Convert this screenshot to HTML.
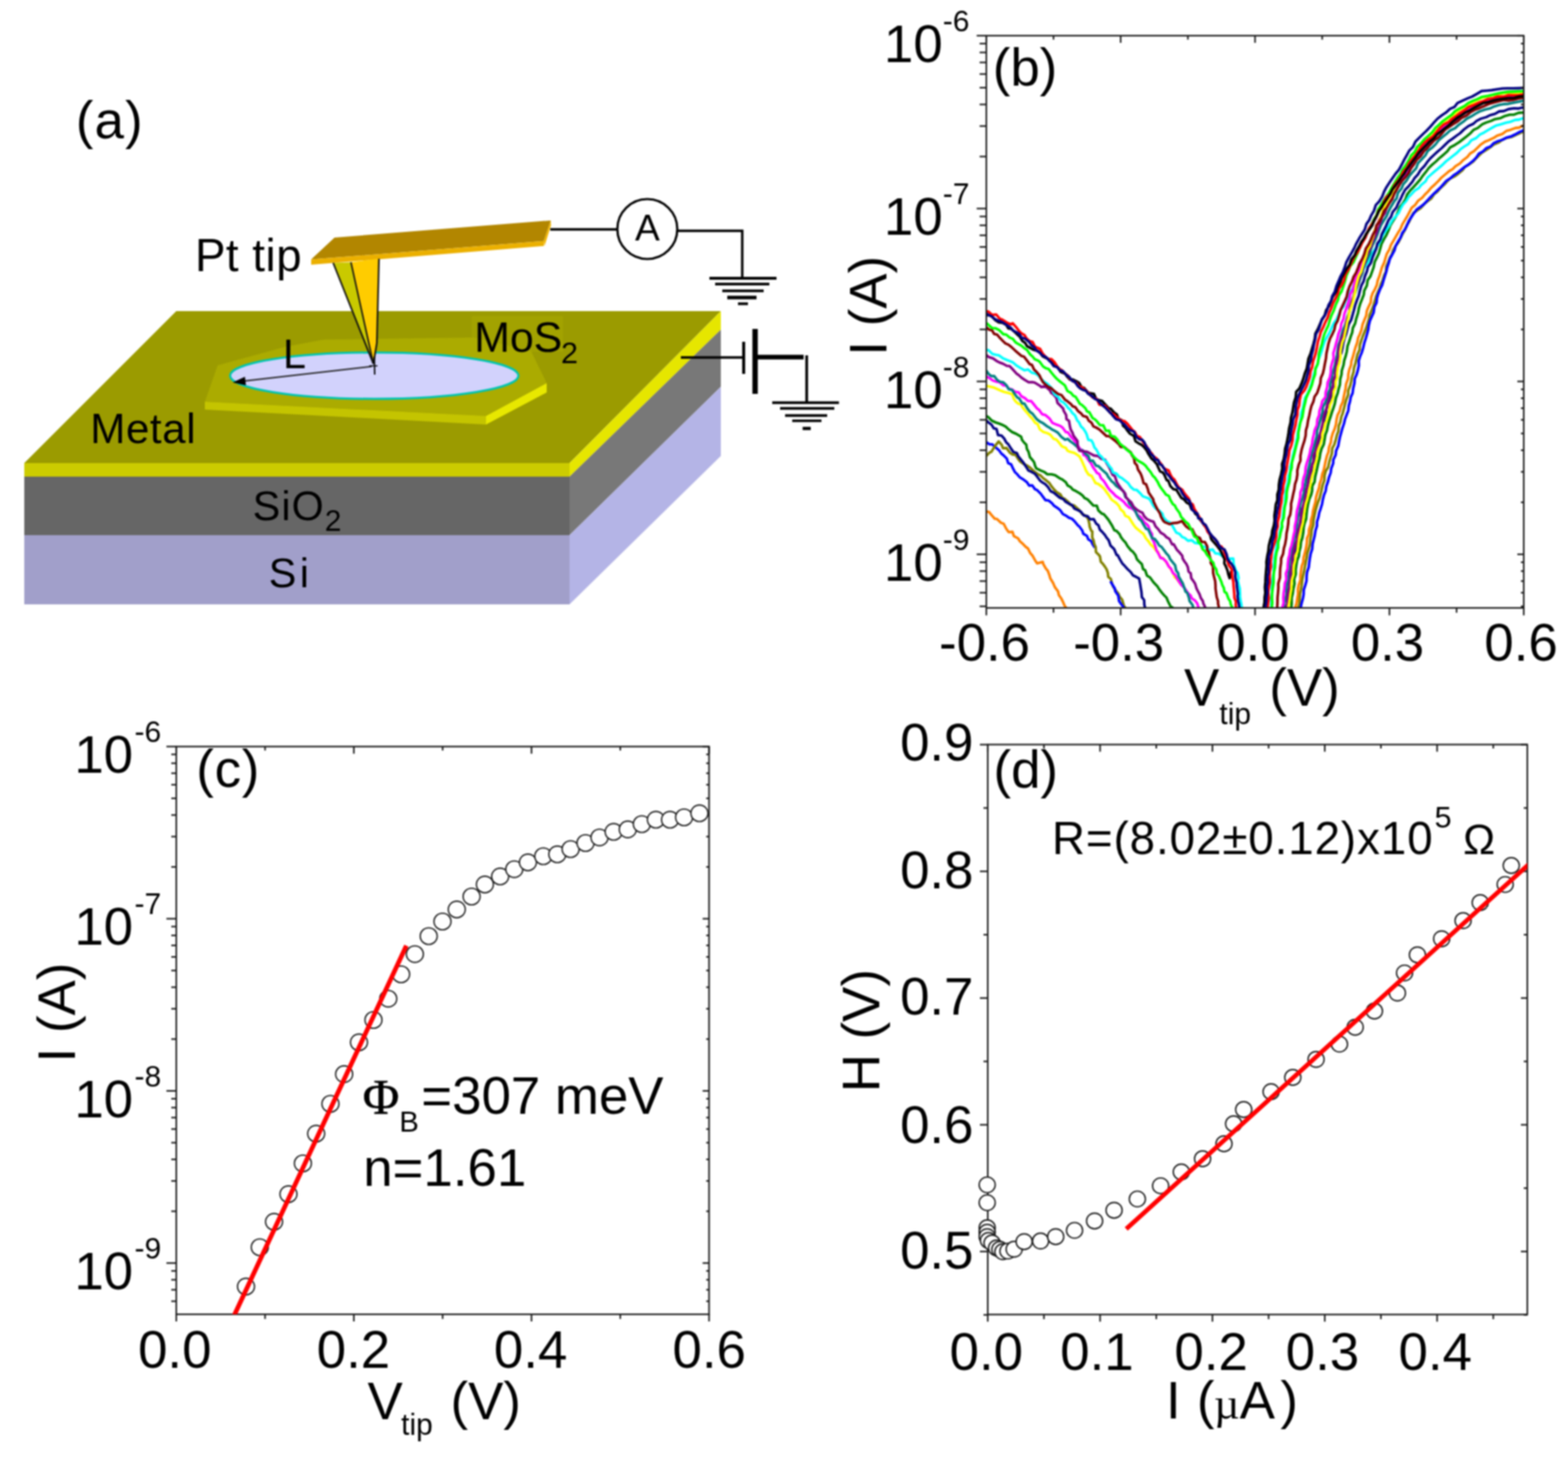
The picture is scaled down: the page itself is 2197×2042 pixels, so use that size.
<!DOCTYPE html>
<html><head><meta charset="utf-8"><title>Figure</title>
<style>
html,body{margin:0;padding:0;background:#fff;}
body{width:2197px;height:2042px;overflow:hidden;}
svg{display:block;filter:blur(0.8px);}
text{fill:#000;}
</style></head>
<body>
<svg width="2197" height="2042" viewBox="0 0 2197 2042">
<rect x="0" y="0" width="2197" height="2042" fill="#fff"/>
<text x="106.3" y="194.2" font-size="74" text-anchor="start" font-family="'Liberation Sans', Arial, sans-serif" textLength="93.7" lengthAdjust="spacing">(a)</text>
<polygon points="247.0,436.0 1010.0,436.0 798.0,649.0 34.0,649.0" fill="#9b9b00"/>
<polygon points="34.0,649.0 798.0,649.0 798.0,668.0 34.0,668.0" fill="#cccc00"/>
<polygon points="34.0,668.0 798.0,668.0 798.0,750.0 34.0,750.0" fill="#666666"/>
<polygon points="34.0,750.0 798.0,750.0 798.0,847.0 34.0,847.0" fill="#a19fca"/>
<polygon points="798.0,649.0 1010.0,436.0 1010.0,462.0 798.0,668.0" fill="#e6e600"/>
<polygon points="798.0,668.0 1010.0,462.0 1010.0,542.0 798.0,750.0" fill="#787878"/>
<polygon points="798.0,750.0 1010.0,542.0 1010.0,639.0 798.0,847.0" fill="#b4b4e6"/>
<polygon points="661.0,443.0 789.0,443.0 789.0,493.0 661.0,493.0" fill="#a2a200"/>
<polygon points="305.0,512.0 400.0,486.0 453.0,476.0 664.0,473.0 744.0,492.0 766.0,537.0 681.0,583.0 287.0,563.0" fill="#abab00"/>
<polygon points="287.0,563.0 681.0,583.0 681.0,595.0 287.0,574.0" fill="#c4c400"/>
<polygon points="681.0,583.0 766.0,537.0 766.0,550.0 681.0,595.0" fill="#e8e800"/>
<ellipse cx="524.4" cy="526.5" rx="202" ry="32.5" fill="#d2d2fc" stroke="#00c4b0" stroke-width="3"/>
<line x1="521.0" y1="513.6" x2="340.0" y2="534.2" stroke="#222" stroke-width="2.0"/>
<polygon points="326.0,536.0 344.6,540.0 343.2,528.0" fill="#000"/>
<text x="396.6" y="515.5" font-size="58" text-anchor="start" font-family="'Liberation Sans', Arial, sans-serif">L</text>
<polygon points="436.0,363.6 468.7,333.0 771.7,309.0 762.0,337.8" fill="#b28600"/>
<polygon points="436.0,363.6 762.0,337.8 762.0,344.8 436.0,371.0" fill="#ebb000"/>
<polygon points="771.7,309.0 772.0,316.0 763.0,344.8 762.0,337.8" fill="#f0b400"/>
<polygon points="466.8,368.4 491.7,367.4 523.2,510.0" fill="#c9c900"/>
<polygon points="491.7,367.4 531.0,362.6 528.0,481.0 523.2,510.0" fill="#ffcc00"/>
<line x1="466.8" y1="368.4" x2="523.2" y2="510.0" stroke="#111" stroke-width="2.3"/>
<line x1="491.7" y1="367.4" x2="523.2" y2="510.0" stroke="#111" stroke-width="2.1"/>
<polyline points="531,362.6 528,481 523.2,510" fill="none" stroke="#111" stroke-width="2.3"/>
<line x1="524.5" y1="500.0" x2="525.0" y2="525.0" stroke="#000" stroke-width="2"/>
<line x1="517.5" y1="512.7" x2="529.0" y2="512.7" stroke="#000" stroke-width="1.5"/>
<text x="273.2" y="379.6" font-size="64" text-anchor="start" font-family="'Liberation Sans', Arial, sans-serif" textLength="149.3" lengthAdjust="spacing">Pt tip</text>
<text x="664.5" y="493.4" font-size="60" text-anchor="start" font-family="'Liberation Sans', Arial, sans-serif">MoS</text>
<text x="786.0" y="509.3" font-size="43" text-anchor="start" font-family="'Liberation Sans', Arial, sans-serif">2</text>
<text x="126.5" y="620.5" font-size="59" text-anchor="start" font-family="'Liberation Sans', Arial, sans-serif" textLength="147.5" lengthAdjust="spacing">Metal</text>
<text x="354.0" y="729.2" font-size="58" text-anchor="start" font-family="'Liberation Sans', Arial, sans-serif" textLength="99.7" lengthAdjust="spacing">SiO</text>
<text x="455.0" y="743.9" font-size="42" text-anchor="start" font-family="'Liberation Sans', Arial, sans-serif">2</text>
<text x="376.5" y="823.3" font-size="58" text-anchor="start" font-family="'Liberation Sans', Arial, sans-serif" textLength="56.4" lengthAdjust="spacing">Si</text>
<line x1="771.0" y1="321.5" x2="864.0" y2="321.5" stroke="#000" stroke-width="3.4"/>
<circle cx="907" cy="321" r="42" fill="#fff" stroke="#000" stroke-width="3.2"/>
<text x="907.0" y="337.0" font-size="52" text-anchor="middle" font-family="'Liberation Sans', Arial, sans-serif">A</text>
<polyline points="950,323.5 1040,323.5 1040,390" fill="none" stroke="#000" stroke-width="3.4"/>
<line x1="994.0" y1="390.0" x2="1088.0" y2="390.0" stroke="#000" stroke-width="3.8"/>
<line x1="1002.0" y1="398.1" x2="1078.0" y2="398.1" stroke="#000" stroke-width="3.6"/>
<line x1="1012.0" y1="407.6" x2="1070.0" y2="407.6" stroke="#000" stroke-width="3.6"/>
<line x1="1019.0" y1="417.0" x2="1060.0" y2="417.0" stroke="#000" stroke-width="5"/>
<line x1="1034.0" y1="425.7" x2="1048.0" y2="425.7" stroke="#000" stroke-width="3.8"/>
<line x1="954.0" y1="501.0" x2="1042.0" y2="501.0" stroke="#000" stroke-width="3.4"/>
<line x1="1042.0" y1="479.0" x2="1042.0" y2="524.0" stroke="#000" stroke-width="4.2"/>
<line x1="1058.0" y1="461.0" x2="1058.0" y2="552.0" stroke="#000" stroke-width="7.5"/>
<line x1="1060.0" y1="500.5" x2="1126.0" y2="500.5" stroke="#000" stroke-width="6.5"/>
<line x1="1130.3" y1="498.0" x2="1130.3" y2="564.0" stroke="#000" stroke-width="3.8"/>
<line x1="1082.0" y1="564.3" x2="1175.5" y2="564.3" stroke="#000" stroke-width="3.8"/>
<line x1="1093.0" y1="572.4" x2="1169.0" y2="572.4" stroke="#000" stroke-width="3.6"/>
<line x1="1100.0" y1="582.4" x2="1159.0" y2="582.4" stroke="#000" stroke-width="3.6"/>
<line x1="1110.0" y1="589.8" x2="1151.0" y2="589.8" stroke="#000" stroke-width="3.6"/>
<line x1="1124.6" y1="600.5" x2="1136.0" y2="600.5" stroke="#000" stroke-width="4.5"/>
<defs><clipPath id="clipB"><rect x="1382" y="50" width="753" height="802"/></clipPath><clipPath id="clipC"><rect x="247" y="1046" width="747" height="796"/></clipPath><clipPath id="clipD"><rect x="1384" y="1043" width="756" height="799"/></clipPath></defs>
<polyline points="1380.2,716.5 1385.7,717.5 1389.3,721.9 1393.8,727.0 1396.7,727.2 1402.5,732.6 1406.4,734.2 1409.9,741.0 1413.3,745.7 1418.6,745.4 1420.6,751.4 1426.5,754.5 1428.8,758.4 1432.2,761.3 1437.0,766.2 1440.4,768.8 1443.4,775.1 1446.5,778.4 1450.7,786.0 1453.3,789.6 1461.1,787.6 1461.6,790.1 1465.3,796.6 1468.2,800.2 1470.4,806.2 1471.7,810.7 1475.4,816.7 1477.0,820.4 1478.4,823.4 1482.5,828.8 1483.6,833.9 1487.2,839.1 1488.9,842.6 1491.6,848.7 1494.0,852.0" fill="none" stroke="#ff8000" stroke-width="3.6" stroke-linejoin="round" clip-path="url(#clipB)"/>
<polyline points="1380.1,618.5 1386.1,622.6 1390.0,622.7 1395.8,627.6 1399.6,630.8 1403.1,635.7 1405.7,637.7 1410.7,642.7 1412.6,649.1 1416.7,650.7 1419.8,657.4 1422.2,661.8 1425.4,664.8 1428.6,668.7 1434.7,672.6 1438.8,675.7 1442.0,680.6 1446.3,680.3 1450.2,685.6 1453.2,686.9 1458.5,692.3 1460.9,695.7 1464.8,700.9 1469.3,701.5 1473.8,705.1 1476.5,708.4 1481.7,711.9 1485.3,714.8 1489.3,720.5 1493.6,722.6 1497.6,725.5 1502.0,727.1 1505.8,730.8 1510.8,736.9 1512.0,737.5 1516.4,743.5 1517.9,748.1 1523.0,751.0 1524.7,755.7 1529.0,758.4 1530.6,762.2 1534.0,767.6" fill="none" stroke="#0000ff" stroke-width="3.6" stroke-linejoin="round" clip-path="url(#clipB)"/>
<polyline points="1381.3,639.9 1386.5,634.2 1389.0,633.4 1393.9,625.4 1399.3,618.6 1403.4,623.2 1405.4,628.3 1410.3,627.9 1414.8,634.2 1418.4,636.9 1422.9,637.4 1426.7,643.4 1429.0,646.5 1434.3,650.2 1440.2,653.1 1444.0,656.0 1449.6,661.1 1454.8,665.0 1457.8,666.2 1462.0,670.4 1466.5,673.8 1470.3,676.9 1473.8,682.2 1477.2,686.3 1480.6,689.8 1485.7,692.8 1488.6,698.0 1492.2,699.5 1497.0,703.6 1500.2,708.0 1504.9,708.4 1508.5,711.6 1512.5,715.2 1516.3,720.5 1521.2,722.8 1524.7,727.1 1526.3,733.8 1526.8,738.2 1528.9,743.7 1530.5,744.8 1530.4,753.3 1532.3,757.5 1533.2,762.3 1535.2,766.8 1535.6,773.7 1539.6,777.6 1541.2,779.9 1542.4,787.2 1544.8,789.7 1548.1,794.1 1550.5,797.9 1552.3,803.0 1552.8,808.3 1556.4,811.3 1558.6,819.4 1560.0,822.7 1563.3,827.5 1567.1,832.2 1568.6,836.1 1572.4,840.7 1574.8,849.3 1577.0,852.0" fill="none" stroke="#808000" stroke-width="3.6" stroke-linejoin="round" clip-path="url(#clipB)"/>
<polyline points="1555.9,814.7 1557.5,817.5 1562.0,824.7 1562.7,828.8 1566.8,834.7 1568.0,842.4 1571.2,847.0 1575.0,852.0" fill="none" stroke="#0000ff" stroke-width="3.6" stroke-linejoin="round" clip-path="url(#clipB)"/>
<polyline points="1381.3,588.4 1384.5,591.8 1389.2,595.1 1392.4,600.2 1396.3,601.3 1398.4,609.7 1403.3,610.6 1406.9,614.4 1409.7,619.7 1412.8,622.6 1416.9,629.1 1419.9,633.4 1424.8,634.9 1426.7,639.3 1431.1,644.9 1434.0,648.4 1438.2,654.9 1440.9,659.4 1444.4,660.9 1450.0,664.0 1452.2,666.7 1457.4,673.7 1460.0,675.8 1464.8,678.7 1468.4,682.6 1472.2,688.5 1476.3,690.4 1481.3,694.5 1484.9,697.5 1490.0,699.6 1492.7,702.9 1498.2,706.3 1501.8,707.6 1505.5,712.9 1510.1,714.9 1514.4,717.1 1518.7,722.5 1524.0,723.5 1527.4,727.8 1532.5,727.6 1536.0,734.0 1539.0,736.0 1541.2,742.4 1544.3,745.4 1548.1,749.7 1550.0,752.9 1553.4,757.2 1556.0,764.7 1559.4,767.8 1561.3,770.0 1564.5,777.7 1566.2,778.3 1569.4,784.3 1572.8,790.1 1575.8,793.1 1580.0,797.7 1584.3,801.7 1587.4,806.3 1591.0,808.0 1596.1,810.9 1597.4,817.8 1598.1,822.3 1599.4,830.1 1599.9,836.8 1603.1,841.0 1603.4,847.8 1604.5,852.0" fill="none" stroke="#000080" stroke-width="3.6" stroke-linejoin="round" clip-path="url(#clipB)"/>
<polyline points="1380.1,581.7 1385.0,584.7 1389.6,589.5 1394.9,592.0 1400.2,593.8 1403.8,595.2 1409.1,597.9 1412.7,601.3 1418.1,605.5 1423.8,608.0 1430.8,612.1 1432.0,616.5 1435.1,620.5 1437.9,623.1 1438.8,629.1 1441.1,633.1 1443.1,640.7 1447.1,645.3 1449.0,648.0 1450.3,652.8 1451.9,656.3 1458.1,659.3 1463.6,661.7 1467.5,664.7 1473.4,664.8 1478.4,666.0 1484.8,670.3 1488.3,671.8 1493.4,675.8 1495.9,680.4 1500.2,682.8 1503.1,686.1 1507.4,688.2 1513.0,691.5 1517.0,694.6 1519.5,697.8 1523.7,699.8 1528.9,705.3 1531.9,708.5 1536.8,708.7 1539.0,715.4 1543.9,719.9 1546.4,720.5 1549.8,724.4 1553.1,728.5 1556.7,734.2 1558.1,736.5 1561.4,743.1 1564.6,744.3 1568.8,748.7 1570.7,752.9 1573.8,757.0 1576.7,759.9 1580.0,765.6 1584.9,771.5 1587.1,773.0 1590.9,777.9 1593.0,783.7 1595.8,786.7 1599.9,790.6 1601.6,797.6 1604.5,799.1 1607.1,806.7 1611.3,809.3 1615.3,814.8 1617.1,817.0 1621.9,822.1 1624.4,826.1 1628.5,831.4 1631.5,834.8 1634.4,837.5 1636.5,842.7 1640.1,849.8 1643.8,852.0" fill="none" stroke="#008000" stroke-width="3.6" stroke-linejoin="round" clip-path="url(#clipB)"/>
<polyline points="1380.2,540.3 1385.5,541.6 1391.9,542.9 1396.4,544.8 1403.0,547.8 1406.7,549.2 1413.1,550.7 1418.3,552.5 1420.3,558.7 1423.0,562.6 1426.9,565.8 1430.4,566.8 1432.7,570.8 1436.1,575.1 1439.6,579.1 1443.8,584.1 1445.9,586.1 1450.1,592.3 1453.9,594.4 1456.9,601.6 1461.5,605.2 1467.6,607.1 1471.5,609.2 1476.2,614.9 1480.0,615.9 1484.5,621.1 1487.9,625.6 1493.4,627.7 1495.7,631.6 1499.6,633.3 1505.2,634.8 1508.7,636.9 1512.7,639.9 1515.9,646.1 1518.3,651.6 1520.1,655.6 1521.6,659.6 1525.1,665.0 1529.6,667.1 1532.3,672.0 1535.0,677.1 1538.8,678.2 1543.4,681.7 1547.4,685.3 1549.4,688.3 1553.6,693.9 1557.4,700.1 1559.1,701.4 1564.1,705.0 1567.9,709.1 1570.1,713.9 1574.5,717.7 1576.7,722.9 1581.5,724.8 1583.5,728.0 1588.1,735.2 1591.3,739.5 1594.5,742.1 1599.0,745.8 1602.1,748.2 1605.5,754.4 1609.5,759.0 1611.9,762.9 1616.3,766.9 1620.3,772.2 1622.7,773.3 1625.1,780.3 1628.8,781.9 1632.7,785.7 1635.9,790.7 1638.3,794.2 1640.2,797.2 1643.6,802.6 1645.8,808.6 1649.1,811.5 1652.3,815.9 1655.7,820.0" fill="none" stroke="#ffff00" stroke-width="3.6" stroke-linejoin="round" clip-path="url(#clipB)"/>
<polyline points="1380.8,527.3 1386.0,529.6 1391.3,533.4 1395.9,534.9 1400.5,535.5 1405.9,540.0 1410.2,540.6 1413.3,544.5 1418.9,546.3 1422.1,548.9 1427.4,549.9 1431.2,555.4 1436.3,558.1 1440.4,562.0 1444.8,562.1 1448.0,566.0 1453.4,572.8 1456.0,574.6 1460.2,580.5 1465.0,581.8 1470.3,586.3 1474.5,592.6 1480.9,595.3 1485.9,597.1 1489.0,599.5 1493.5,605.8 1496.2,605.8 1500.9,612.5 1503.9,615.4 1506.0,618.5 1508.9,622.6 1513.1,629.0 1517.0,631.3 1518.3,637.8 1520.8,638.2 1525.3,644.9 1528.9,649.7 1531.5,654.9 1534.8,659.3 1536.8,662.6 1540.3,664.3 1542.7,670.3 1546.3,673.8 1549.3,678.3 1552.2,683.1 1555.6,687.3 1560.4,691.9 1563.2,695.0 1567.4,697.8 1570.2,699.7 1575.2,703.9 1577.6,707.1 1582.6,711.7 1584.7,711.8 1589.0,714.8 1594.0,721.7 1597.5,724.1 1600.2,727.0 1603.3,732.0 1607.3,735.1 1609.4,737.9 1611.2,744.0 1614.1,748.3 1614.5,755.4 1616.6,759.0 1618.9,766.0 1620.3,770.8 1622.8,775.3 1626.3,782.1 1629.3,782.5 1634.3,787.6 1637.6,793.9 1640.8,797.1 1643.3,802.8 1646.5,805.6 1649.1,810.6 1652.4,815.8 1655.3,820.0 1659.2,823.6 1662.6,828.2 1664.1,830.9 1668.4,834.9 1669.8,838.5 1674.3,841.5 1677.5,845.7 1679.5,852.0" fill="none" stroke="#ff00ff" stroke-width="3.6" stroke-linejoin="round" clip-path="url(#clipB)"/>
<polyline points="1381.8,519.3 1385.8,524.8 1388.9,526.9 1393.1,527.1 1397.2,532.5 1400.9,535.0 1405.5,535.7 1409.8,539.5 1413.5,545.6 1418.1,546.6 1421.8,552.2 1425.3,557.0 1428.0,558.4 1432.4,565.5 1435.4,565.6 1439.4,572.3 1443.1,577.1 1446.9,580.0 1449.2,583.0 1453.0,587.8 1457.6,591.2 1461.6,593.2 1466.9,597.2 1471.1,599.8 1473.6,601.6 1478.3,604.0 1482.2,606.4 1487.2,612.4 1492.4,616.3 1496.0,615.1 1499.5,618.4 1505.2,622.6 1509.2,626.2 1513.2,631.0 1517.0,631.2 1520.7,636.0 1525.1,639.2 1527.2,645.7 1531.2,645.5 1535.8,652.8 1538.8,653.1 1543.3,657.4 1545.6,659.7 1550.7,664.1 1552.7,668.2 1557.7,674.6 1560.3,676.5 1564.1,681.1 1568.3,683.9 1572.7,686.9 1574.7,688.9 1576.8,696.4 1580.9,700.3 1582.1,705.4 1586.6,710.3 1589.2,713.9 1591.1,716.9 1593.5,722.6 1596.6,727.7 1599.1,729.7 1601.6,734.2 1605.8,741.0 1608.9,742.0 1611.7,748.4 1614.2,754.1 1618.2,755.5 1621.7,760.1 1624.2,764.4 1627.5,766.5 1631.5,771.8 1633.9,775.3 1637.4,778.9 1639.5,783.6 1644.6,789.8 1646.5,792.1 1648.0,799.7 1650.8,803.3 1651.5,807.9 1655.6,814.9 1657.1,817.4 1659.2,823.3 1661.1,829.3 1663.5,830.8 1666.0,838.3 1666.8,842.4 1670.9,847.8 1672.0,852.0" fill="none" stroke="#008080" stroke-width="3.6" stroke-linejoin="round" clip-path="url(#clipB)"/>
<polyline points="1381.5,497.2 1385.0,500.2 1391.3,502.2 1396.3,505.8 1400.4,508.0 1405.3,509.8 1410.7,512.8 1414.5,513.0 1418.2,516.7 1424.1,523.4 1427.4,525.7 1431.2,529.2 1435.6,532.3 1441.3,535.7 1446.4,535.6 1449.8,536.3 1456.3,540.2 1459.2,542.5 1464.2,541.0 1470.9,546.8 1472.9,550.8 1475.7,552.6 1480.1,557.5 1481.7,564.6 1485.9,568.7 1489.8,572.7 1490.2,575.4 1493.8,581.7 1494.3,587.5 1497.8,589.7 1499.2,598.0 1500.2,601.9 1502.8,606.6 1504.1,610.5 1506.4,613.5 1509.7,618.0 1510.1,626.3 1512.3,631.6 1518.0,632.5 1523.4,633.3 1527.9,635.8 1532.7,638.4 1538.9,639.3 1542.4,642.7 1548.5,644.5 1550.3,648.5 1554.6,655.8 1555.7,658.2 1558.8,665.4 1562.0,667.2 1564.9,675.8 1567.8,680.4 1570.1,683.6 1573.3,688.0 1576.6,691.6 1577.7,696.9 1581.3,700.9 1584.9,703.9 1588.4,710.3 1591.8,713.4 1596.8,716.9 1600.8,718.7 1603.2,723.5 1607.0,727.5 1611.5,729.7 1616.3,731.2 1619.1,737.8 1622.7,741.5 1626.4,746.6 1631.0,749.3 1634.4,752.9 1638.5,755.2 1642.4,763.0 1644.5,762.7 1648.8,770.2 1652.4,774.0 1656.5,778.8 1657.1,782.7 1660.0,787.5 1662.3,790.4 1664.3,794.7 1665.4,801.2 1668.3,803.5 1669.2,810.4 1671.4,813.3 1674.5,818.0 1676.6,824.9 1677.9,827.5 1680.9,833.2 1682.5,838.0 1685.3,842.3 1686.0,845.4 1689.0,852.0" fill="none" stroke="#800080" stroke-width="3.6" stroke-linejoin="round" clip-path="url(#clipB)"/>
<polyline points="1380.6,490.2 1385.0,490.7 1390.5,496.0 1395.3,497.3 1399.6,498.1 1405.8,502.4 1410.7,504.5 1415.1,506.1 1419.4,508.0 1424.3,512.3 1430.2,516.0 1435.3,518.9 1440.5,517.8 1445.9,522.5 1449.9,523.2 1454.2,525.6 1459.1,531.3 1463.1,535.0 1467.7,538.0 1469.4,539.7 1474.4,545.0 1476.3,550.8 1479.3,554.2 1482.3,556.0 1486.3,562.1 1489.9,564.0 1494.0,568.1 1497.4,572.6 1499.0,573.4 1502.6,578.9 1506.3,582.2 1509.5,589.5 1511.6,591.5 1514.7,597.8 1517.7,600.4 1520.4,604.4 1522.5,608.5 1524.9,616.4 1529.3,617.3 1531.4,621.1 1533.6,627.3 1536.1,630.0 1540.4,637.8 1542.7,639.4 1547.2,644.9 1550.5,647.2 1554.3,653.3 1557.3,656.6 1559.3,662.0 1564.2,663.7 1568.4,668.5 1571.3,669.6 1575.7,673.1 1580.4,676.8 1584.3,682.5 1588.9,686.3 1592.7,686.6 1597.9,691.6 1601.3,695.6 1606.4,697.4 1609.8,698.7 1612.5,702.1 1616.0,708.9 1619.7,713.1 1623.6,715.0 1628.6,719.8 1630.2,725.1 1635.0,730.5 1638.8,732.1 1641.8,735.3 1644.8,740.6 1648.1,746.3 1652.8,748.4 1656.4,752.6 1659.9,753.9 1664.6,757.9 1669.9,757.1 1674.3,760.9 1680.9,761.8 1685.7,766.3 1688.7,766.5 1695.1,770.9 1699.1,770.1 1702.8,775.6 1707.2,775.7 1711.8,778.8 1716.8,781.9 1721.3,783.1 1728.0,782.9 1728.5,790.5 1729.9,794.5 1731.5,799.2 1734.0,803.0 1735.5,809.9 1734.4,813.7 1735.5,818.7 1737.1,824.6 1737.4,831.1 1737.5,836.9 1738.4,842.4 1739.4,847.4 1740.0,852.0" fill="none" stroke="#00ffff" stroke-width="3.6" stroke-linejoin="round" clip-path="url(#clipB)"/>
<polyline points="1380.9,457.8 1386.0,462.2 1389.8,462.6 1393.0,468.0 1397.2,469.1 1401.2,473.8 1406.3,478.9 1408.9,481.4 1413.0,483.1 1416.7,486.0 1422.4,491.3 1426.8,495.2 1430.9,498.7 1434.8,499.9 1439.8,506.4 1442.6,510.3 1446.0,511.5 1448.9,517.9 1451.9,520.7 1456.5,526.2 1458.3,530.1 1461.2,535.4 1464.7,538.7 1468.6,542.0 1472.8,544.0 1478.4,549.0 1482.6,552.1 1487.2,553.6 1492.2,560.2 1494.7,561.6 1500.6,566.4 1502.7,569.2 1506.8,570.7 1510.4,576.0 1515.0,579.6 1517.3,582.7 1522.9,584.5 1525.4,589.5 1529.3,592.4 1532.1,597.6 1536.2,599.4 1540.4,602.0 1544.6,605.9 1550.5,611.3 1553.9,611.2 1557.8,614.1 1562.1,617.5 1567.5,622.3 1570.3,626.4 1575.1,626.5 1579.7,630.3 1584.6,634.2 1585.6,637.3 1588.9,642.3 1589.9,648.7 1593.0,652.1 1594.5,658.1 1598.0,663.5 1599.3,666.4 1601.0,671.8 1602.4,677.4 1605.7,678.5 1608.4,685.6 1609.3,689.9 1612.6,694.9 1615.7,699.5 1616.5,703.2 1620.3,711.2 1622.0,714.4 1625.4,719.9 1626.8,724.4 1629.9,729.9 1632.1,731.9 1638.9,734.6 1642.8,733.2 1649.9,732.6 1656.4,730.2 1658.5,733.6 1662.2,738.1 1666.6,741.3 1670.7,741.9 1673.7,748.6 1676.1,751.8 1681.1,753.8 1683.4,759.2 1688.4,759.8 1691.6,765.9 1691.4,770.9 1693.7,773.6 1694.5,777.9 1696.7,785.6 1696.4,788.7 1699.5,793.7 1699.7,798.8 1699.8,803.2 1701.4,809.8 1702.6,814.2 1703.1,820.6 1703.1,824.4 1703.9,830.5 1704.8,836.7 1706.7,842.7 1706.6,845.7 1708.0,852.0" fill="none" stroke="#800000" stroke-width="3.6" stroke-linejoin="round" clip-path="url(#clipB)"/>
<polyline points="1381.2,451.8 1384.8,455.1 1390.2,459.9 1394.7,460.0 1399.6,462.3 1405.8,468.4 1410.0,469.0 1414.7,473.1 1419.1,474.9 1423.0,479.9 1427.8,482.7 1430.9,484.3 1436.0,488.6 1439.0,490.5 1443.3,496.6 1447.1,500.0 1449.7,503.3 1453.9,505.1 1456.5,506.8 1461.7,513.8 1465.6,516.1 1469.4,517.3 1473.1,522.2 1477.6,527.6 1480.5,530.7 1483.7,533.5 1488.6,537.4 1492.1,540.2 1495.7,548.0 1500.6,550.7 1503.8,554.6 1507.1,556.1 1509.8,560.5 1513.1,566.0 1515.9,567.5 1520.9,572.3 1522.9,576.3 1526.5,578.0 1530.7,585.7 1534.1,587.7 1536.2,589.7 1541.0,595.7 1545.9,596.1 1549.5,603.8 1554.1,603.6 1556.7,611.1 1561.8,612.1 1565.5,616.0 1569.2,622.0 1573.8,625.6 1577.1,628.8 1581.0,632.0 1584.6,634.8 1588.4,640.1 1592.7,644.3 1596.2,646.7 1601.5,649.6 1605.1,652.6 1607.4,655.8 1612.0,661.4 1615.3,666.8 1618.2,669.4 1621.8,674.9 1624.6,680.6 1626.6,683.7 1630.6,688.8 1633.6,693.1 1637.8,695.1 1639.9,700.8 1643.5,706.7 1646.0,708.2 1648.2,712.8 1652.8,719.0 1655.1,724.8 1658.0,727.6 1660.5,730.6 1665.0,734.4 1667.4,739.2 1669.9,743.3 1673.4,751.9 1677.0,753.5 1679.3,759.9 1682.5,762.6 1685.0,769.7 1688.4,772.5 1691.4,777.8 1694.1,780.9 1696.7,785.2 1700.1,788.8 1701.3,793.9 1704.2,798.0 1705.2,804.0 1707.7,807.1 1711.4,815.7 1712.6,819.8 1714.7,823.9 1715.7,829.5 1718.4,831.1 1721.4,839.3 1723.6,842.6 1724.6,847.5 1727.0,852.0" fill="none" stroke="#00ff00" stroke-width="3.6" stroke-linejoin="round" clip-path="url(#clipB)"/>
<polyline points="1381.6,441.8 1386.0,441.7 1390.1,444.0 1394.7,448.8 1399.3,451.8 1404.7,452.5 1410.0,455.3 1412.7,460.2 1417.4,461.1 1421.2,464.8 1424.3,467.8 1428.6,471.6 1432.4,477.7 1436.4,480.6 1439.0,485.1 1443.2,487.4 1447.6,490.0 1453.9,491.7 1457.6,495.0 1461.0,499.5 1464.9,501.4 1469.8,503.5 1475.2,507.6 1478.6,512.5 1483.5,516.0 1486.0,521.2 1492.4,523.8 1494.8,527.3 1499.2,532.0 1503.1,531.9 1508.1,534.4 1512.2,536.9 1515.6,542.8 1519.1,543.8 1524.3,550.0 1527.1,551.1 1532.7,552.0 1535.7,558.8 1539.5,560.8 1544.4,562.1 1547.5,565.6 1553.3,571.9 1556.2,572.7 1561.4,578.5 1564.8,580.7 1566.9,586.6 1571.9,589.1 1573.5,596.6 1577.1,599.7 1580.0,603.9 1583.2,607.8 1588.7,611.0 1591.0,618.5 1595.4,621.3 1599.3,623.3 1603.5,627.3 1606.6,631.2 1609.1,636.1 1613.1,642.4 1616.5,645.3 1621.0,650.7 1622.9,655.1 1625.4,660.6 1629.1,662.2 1631.2,665.0 1634.8,673.0 1636.9,673.6 1639.9,681.3 1644.0,685.6 1648.3,686.5 1652.2,692.9 1655.2,697.7 1659.4,700.3 1662.6,704.5 1666.9,706.7 1669.4,713.7 1672.9,715.3 1674.5,719.6 1678.0,722.5 1682.0,729.1 1684.9,732.2 1687.3,736.2 1690.7,740.3 1692.0,744.0 1695.6,749.7 1697.1,755.6 1700.0,759.1 1704.4,764.0 1708.9,769.8 1711.1,773.7 1713.6,779.4 1715.8,783.6 1715.4,789.7 1717.3,793.2 1719.9,799.7 1720.9,804.5 1722.9,810.4 1724.5,803.4 1725.0,800.0" fill="none" stroke="#000000" stroke-width="3.6" stroke-linejoin="round" clip-path="url(#clipB)"/>
<polyline points="1380.1,436.1 1384.8,436.6 1390.1,441.4 1395.7,440.7 1400.8,446.7 1404.4,448.0 1410.7,452.0 1416.0,454.6 1418.9,453.0 1424.1,458.9 1428.0,464.0 1431.0,467.0 1435.7,469.8 1438.4,474.4 1442.3,477.9 1446.7,479.2 1450.1,485.7 1454.5,487.8 1457.3,488.9 1460.7,495.2 1464.7,499.6 1468.5,503.0 1473.2,503.2 1477.4,507.5 1481.1,513.3 1483.9,517.0 1487.6,518.7 1492.3,523.4 1496.2,526.2 1499.2,530.9 1504.6,534.9 1508.5,536.9 1511.2,541.2 1515.3,542.4 1520.5,546.4 1524.1,549.8 1527.2,553.3 1531.1,557.1 1536.9,559.3 1540.2,566.9 1544.8,567.9 1548.6,568.8 1551.8,572.7 1555.0,578.2 1560.0,580.1 1563.1,583.1 1568.1,587.3 1571.8,589.9 1575.8,590.4 1579.5,593.7 1582.9,597.8 1586.9,602.9 1589.9,605.2 1592.7,610.6 1597.3,612.6 1600.9,618.5 1604.2,623.3 1605.7,624.3 1610.5,632.0 1614.3,636.1 1615.8,639.2 1620.4,642.5 1624.0,646.7 1627.3,650.8 1630.0,655.2 1632.3,657.1 1637.5,659.5 1640.5,666.4 1643.1,670.2 1645.3,671.9 1649.6,680.1 1652.1,683.4 1656.6,686.4 1658.1,689.2 1661.4,693.7 1665.9,699.0 1667.9,704.7 1671.4,707.3 1673.5,713.5 1675.6,716.7 1679.1,722.6 1681.0,725.5 1684.4,731.8 1688.1,736.9 1690.0,739.9 1692.2,745.5 1695.9,749.2 1699.3,752.6 1703.3,756.6 1705.8,760.1 1708.0,765.0 1711.4,765.9 1714.1,769.9 1716.1,776.3 1718.2,781.6 1720.1,786.7 1721.6,791.9 1724.5,796.1 1726.0,798.4 1726.3,805.1 1726.9,810.4 1728.0,815.0 1728.5,822.5 1728.7,824.3 1729.4,832.5 1729.6,837.8 1731.8,843.2 1731.4,847.6 1732.0,852.0" fill="none" stroke="#ff0000" stroke-width="3.6" stroke-linejoin="round" clip-path="url(#clipB)"/>
<polyline points="1381.3,438.8 1385.8,441.9 1389.0,442.9 1394.3,447.3 1399.0,449.5 1401.9,450.3 1406.1,452.4 1410.9,455.7 1416.5,459.6 1419.0,463.0 1424.2,465.5 1428.4,468.1 1431.3,473.2 1436.1,474.5 1441.5,478.8 1445.2,483.8 1449.5,487.0 1452.0,491.1 1457.4,494.4 1460.1,497.9 1466.0,500.9 1469.9,505.3 1473.1,508.2 1476.3,513.0 1481.1,514.4 1484.4,518.7 1489.4,520.3 1494.1,525.4 1498.2,528.2 1502.4,533.9 1506.1,535.3 1510.4,541.5 1513.7,544.5 1517.5,546.5 1521.4,547.6 1524.6,551.8 1529.7,555.1 1534.2,559.2 1537.7,560.6 1541.4,564.9 1545.9,569.0 1549.2,571.7 1552.7,575.5 1557.4,580.2 1559.4,582.8 1563.6,587.5 1569.1,589.2 1572.6,592.9 1575.4,594.6 1580.2,600.5 1584.0,603.0 1589.0,605.2 1592.4,612.6 1596.7,615.9 1600.0,616.0 1603.4,619.9 1606.1,626.4 1610.3,631.0 1611.9,635.5 1616.5,639.8 1618.3,643.9 1622.8,644.8 1624.8,650.4 1628.0,652.1 1632.2,658.5 1634.3,662.9 1637.9,666.7 1641.2,671.4 1645.4,675.9 1647.3,679.4 1650.6,683.9 1653.4,685.2 1656.4,690.9 1660.4,696.8 1663.0,699.6 1666.6,702.1 1669.4,708.7 1670.1,714.1 1674.7,718.1 1677.8,719.8 1678.9,726.2 1683.4,727.5 1685.2,733.0 1689.2,735.7 1692.6,742.4 1694.7,746.7 1699.0,752.1 1702.6,755.6 1705.9,759.9 1707.7,763.9 1711.0,768.2 1715.7,770.1 1718.7,776.9 1720.2,783.6 1723.7,788.5 1725.7,790.6 1728.5,795.0 1730.9,801.9 1730.8,807.9 1731.3,811.3 1732.8,816.4 1733.0,821.5 1733.4,824.4 1734.5,832.2 1734.0,835.6 1735.0,843.1 1735.5,845.0 1736.7,852.0" fill="none" stroke="#000080" stroke-width="3.6" stroke-linejoin="round" clip-path="url(#clipB)"/>
<polyline points="1814.6,851.9 1816.7,845.9 1817.7,838.9 1818.8,832.6 1818.6,825.9 1819.6,820.3 1822.2,812.7 1822.1,807.0 1823.0,799.4 1824.0,793.2 1826.0,787.9 1826.5,781.4 1828.4,774.8 1830.2,767.0 1831.2,760.5 1831.3,754.5 1833.9,748.4 1834.1,742.4 1836.6,734.8 1836.9,729.1 1839.0,721.7 1839.6,716.7 1841.3,709.9 1843.2,703.1 1844.0,696.9 1846.0,690.1 1848.2,683.7 1849.1,678.1 1851.3,671.9 1852.7,664.4 1854.7,659.2 1856.1,652.6 1857.5,645.7 1859.3,638.7 1861.3,633.7 1862.1,627.1 1864.8,619.6 1865.4,614.1 1867.4,607.3 1869.9,601.5 1871.8,595.0 1872.8,587.7 1874.2,581.7 1877.0,576.4 1878.6,569.6 1881.5,563.3 1882.6,557.2 1884.0,550.6 1885.3,544.6 1886.1,538.3 1888.9,530.5 1889.2,524.5 1890.6,517.9 1893.1,511.4 1893.5,506.5 1895.8,499.4 1897.6,492.6 1899.5,486.1 1901.7,479.9 1902.9,473.5 1905.3,468.5 1907.6,462.3 1909.2,454.7 1911.8,448.3 1914.3,442.3 1915.1,435.9 1917.2,430.8 1920.6,423.9 1921.3,416.6 1923.3,410.9 1926.5,405.3 1929.1,399.5 1930.4,393.0 1932.8,386.9 1934.5,381.1 1936.5,374.2 1939.3,368.4 1941.1,362.3 1943.1,355.8 1946.8,349.3 1949.0,343.2 1952.6,337.1 1955.3,332.4 1959.2,325.6 1962.5,320.4 1964.8,314.6 1968.8,307.9 1971.5,303.5 1975.2,296.6 1978.1,291.2 1983.0,287.1 1986.9,281.4 1992.6,277.2 1996.6,272.6 2000.8,268.5 2005.1,263.4 2011.2,257.8 2015.3,253.8 2018.9,249.7 2025.0,244.5 2030.4,239.9 2035.4,237.0 2039.3,233.0 2045.7,229.0 2050.0,224.6 2056.1,219.8 2059.9,215.1 2065.6,211.6 2069.8,207.4 2074.6,202.8 2080.8,198.5 2085.7,196.6 2093.1,193.2 2097.5,190.2 2105.0,187.7 2110.5,183.6 2116.5,181.9 2123.4,179.4 2128.3,178.9 2134.3,175.8" fill="none" stroke="#ff8000" stroke-width="3.6" stroke-linejoin="round" clip-path="url(#clipB)"/>
<polyline points="1819.0,851.5 1820.8,846.3 1821.0,839.4 1821.6,832.2 1822.8,826.6 1823.8,820.7 1824.6,812.8 1825.7,807.4 1827.3,800.5 1828.4,794.3 1829.7,787.1 1831.0,780.9 1831.7,775.4 1834.0,768.7 1835.7,761.9 1836.0,755.5 1837.3,749.5 1837.8,742.7 1840.0,736.1 1840.3,730.3 1841.5,723.7 1843.0,716.3 1844.7,710.1 1846.3,704.9 1849.0,698.0 1850.5,691.9 1851.9,686.3 1853.2,679.9 1855.6,673.3 1856.0,665.9 1857.7,660.0 1861.0,654.7 1862.6,647.0 1864.1,641.9 1866.1,635.7 1866.7,628.3 1869.6,623.0 1871.6,616.2 1873.3,609.4 1875.2,604.4 1875.9,596.7 1878.0,591.5 1879.4,584.1 1881.3,579.3 1882.9,573.3 1884.8,565.6 1886.1,560.7 1889.0,553.1 1889.1,547.4 1892.0,539.9 1893.1,535.1 1894.3,528.3 1896.5,521.3 1897.1,515.8 1899.2,509.2 1900.4,503.7 1901.9,496.9 1904.9,490.2 1905.3,483.7 1907.3,477.4 1909.4,471.5 1911.8,465.6 1914.2,459.8 1916.2,453.0 1918.1,447.2 1919.2,441.1 1921.7,435.2 1924.5,428.3 1926.1,422.5 1928.0,415.7 1929.7,411.3 1933.0,404.2 1935.0,397.8 1937.2,392.9 1939.4,385.9 1941.9,380.7 1942.4,373.6 1945.2,367.3 1947.5,361.0 1950.2,356.3 1952.1,350.3 1955.6,344.6 1959.5,339.5 1962.8,332.7 1965.8,326.7 1968.9,321.6 1971.2,315.6 1974.3,311.0 1977.2,304.3 1980.5,298.5 1985.9,294.7 1990.9,291.4 1995.7,286.0 1999.9,282.4 2005.2,278.4 2009.2,272.4 2013.8,268.9 2017.7,264.1 2023.4,259.0 2027.7,254.2 2032.1,250.0 2038.1,247.2 2043.9,243.0 2049.1,238.6 2052.6,234.0 2058.0,230.9 2064.3,226.3 2067.6,222.6 2072.5,217.7 2076.7,213.7 2083.2,209.7 2088.9,205.8 2092.9,202.6 2100.1,199.7 2104.6,196.0 2110.2,193.5 2117.6,192.0 2123.4,189.4 2128.4,187.1 2134.5,184.3" fill="none" stroke="#808000" stroke-width="3.6" stroke-linejoin="round" clip-path="url(#clipB)"/>
<polyline points="1822.4,852.2 1823.6,846.0 1825.5,839.1 1826.6,833.0 1826.8,826.6 1828.9,820.2 1830.6,814.2 1830.8,807.0 1831.5,801.6 1833.8,794.9 1834.5,788.4 1835.4,782.1 1836.5,775.9 1838.6,769.7 1839.2,762.3 1840.5,757.0 1842.1,750.8 1843.2,743.8 1845.3,737.0 1845.3,731.4 1847.3,724.8 1848.5,718.5 1850.4,713.1 1852.4,706.4 1853.4,700.7 1855.1,693.9 1857.5,687.8 1858.4,681.6 1860.5,675.7 1862.2,668.8 1864.5,662.5 1865.2,657.0 1868.0,649.4 1868.2,644.4 1871.5,637.4 1872.1,631.7 1875.2,624.7 1876.1,619.3 1877.5,612.6 1879.2,606.5 1881.1,599.6 1883.2,593.5 1884.6,587.3 1886.9,581.4 1889.2,575.3 1889.9,568.6 1891.4,563.3 1892.7,556.5 1895.2,550.9 1896.0,544.6 1897.8,537.1 1898.2,530.7 1900.9,524.8 1902.4,519.5 1904.0,512.2 1903.8,505.6 1905.6,499.9 1908.1,494.1 1909.9,487.9 1911.6,480.8 1913.7,474.2 1915.3,468.7 1917.3,461.2 1917.8,456.6 1919.5,449.4 1922.3,443.2 1924.7,437.9 1925.7,430.2 1928.7,424.5 1929.4,417.7 1931.0,412.3 1933.4,406.0 1936.6,399.7 1938.6,392.7 1940.2,387.7 1942.6,380.2 1943.7,374.9 1945.9,368.5 1947.3,363.1 1950.8,356.6 1954.0,350.6 1955.4,345.0 1958.5,339.4 1962.6,332.6 1964.8,326.6 1967.9,322.5 1971.1,316.6 1974.0,309.8 1977.7,304.1 1981.7,298.1 1985.2,293.4 1989.7,290.3 1995.2,286.0 2000.4,280.6 2003.6,276.9 2009.7,270.8 2013.1,267.7 2018.2,262.9 2022.3,258.3 2026.5,253.4 2033.0,249.2 2037.4,245.2 2042.4,241.9 2048.6,236.8 2052.6,233.8 2058.4,229.9 2063.4,225.9 2068.3,220.9 2072.0,215.4 2077.7,212.3 2082.9,207.4 2088.3,205.4 2093.0,200.6 2098.7,197.9 2105.3,195.9 2111.3,192.7 2117.7,190.9 2122.8,188.5 2129.3,184.9 2135.2,182.5" fill="none" stroke="#0000ff" stroke-width="3.6" stroke-linejoin="round" clip-path="url(#clipB)"/>
<polyline points="1809.3,851.9 1809.8,845.8 1809.8,838.0 1811.4,831.5 1812.0,826.2 1813.8,818.2 1813.3,811.8 1815.6,804.8 1815.5,798.3 1816.3,792.5 1817.4,785.7 1819.8,779.7 1820.5,773.2 1822.2,766.8 1822.9,759.4 1824.8,753.8 1826.1,746.4 1826.6,739.5 1827.7,734.2 1830.1,727.4 1830.7,720.5 1831.5,713.5 1832.7,706.9 1834.4,699.8 1837.2,693.3 1838.5,687.9 1838.7,681.0 1841.9,675.4 1842.7,668.5 1844.5,661.1 1845.8,655.1 1847.1,649.0 1848.9,642.4 1849.9,635.4 1851.6,629.3 1854.8,622.7 1855.9,616.3 1857.0,609.4 1859.3,603.4 1860.6,596.6 1862.2,590.3 1864.5,583.4 1866.2,577.9 1868.3,571.9 1870.3,565.6 1871.7,558.1 1874.3,551.0 1875.4,545.9 1877.4,539.0 1877.8,531.7 1879.7,524.6 1880.0,519.5 1882.5,511.5 1883.5,505.1 1885.7,498.4 1887.1,492.6 1888.1,485.1 1890.3,478.9 1892.4,472.2 1894.7,465.8 1895.5,459.9 1898.8,453.1 1900.2,446.9 1902.8,438.7 1904.0,432.1 1905.8,425.9 1908.1,420.1 1910.9,412.8 1911.5,407.5 1915.2,400.1 1916.3,392.7 1920.2,387.1 1922.4,381.0 1924.7,374.5 1926.2,367.0 1929.0,361.4 1932.0,354.9 1934.1,347.8 1935.8,341.6 1939.3,334.9 1942.6,329.4 1946.0,321.6 1948.0,316.2 1952.0,309.4 1955.8,303.6 1958.8,296.7 1961.3,290.5 1965.6,285.2 1969.3,279.3 1971.6,272.7 1975.9,267.0 1980.0,262.7 1985.0,257.3 1990.0,251.5 1993.7,246.1 1997.7,241.2 2001.9,235.5 2006.6,230.9 2011.8,226.5 2017.2,221.3 2022.4,217.0 2027.8,212.1 2031.9,206.7 2038.6,203.1 2044.5,199.3 2049.7,195.3 2055.3,190.9 2060.7,186.3 2065.0,181.8 2070.5,179.3 2077.0,174.2 2082.0,171.9 2089.4,169.4 2094.8,166.9 2102.7,165.4 2109.0,162.4 2115.4,160.8 2121.4,160.7 2127.8,158.1 2134.5,157.7" fill="none" stroke="#008000" stroke-width="3.6" stroke-linejoin="round" clip-path="url(#clipB)"/>
<polyline points="1781.2,852.7 1781.3,844.4 1781.1,838.2 1782.5,829.8 1781.9,824.3 1782.4,816.7 1783.3,809.6 1784.8,802.4 1784.5,794.8 1785.4,788.2 1785.7,780.9 1787.5,773.5 1788.4,767.1 1789.8,760.2 1792.6,753.6 1793.1,745.9 1795.4,738.7 1796.6,731.4 1797.4,724.1 1798.1,718.4 1799.0,711.0 1800.7,704.6 1800.6,696.7 1801.5,689.4 1802.9,682.0 1804.9,674.8 1805.3,667.7 1807.7,661.1 1807.6,654.7 1809.9,647.7 1811.1,640.6 1812.9,633.2 1814.6,626.9 1816.1,620.3 1817.6,612.6 1818.5,606.0 1820.1,597.8 1822.1,591.1 1822.8,584.6 1823.5,577.8 1825.8,571.2 1827.3,563.3 1828.7,557.5 1832.4,551.2 1834.9,544.8 1837.6,537.3 1839.7,530.5 1841.2,523.7 1843.4,517.1 1846.4,510.0 1847.5,503.3 1850.2,497.0 1852.4,490.4 1854.0,484.3 1856.0,478.4 1859.8,471.3 1862.9,466.1 1866.0,459.0 1868.8,452.9 1873.0,447.2 1875.3,441.7 1878.2,434.7 1882.5,429.7 1885.1,422.1 1888.4,416.8 1890.6,410.7 1895.3,404.3 1897.2,398.6 1901.4,393.0 1904.7,387.9 1906.9,381.8 1910.5,376.8 1914.5,370.4 1918.5,365.5 1920.4,358.5 1924.1,353.3 1927.5,347.8 1931.6,342.6 1934.7,336.8 1936.6,331.0 1940.0,325.6 1943.5,320.8 1947.3,315.2 1950.9,308.7 1954.6,304.4 1959.4,298.9 1962.5,292.4 1965.6,286.9 1970.4,281.6 1973.7,276.1 1977.4,272.4 1982.1,267.2 1988.3,263.3 1991.2,259.3 1997.4,254.2 2000.1,249.0 2005.8,244.0 2010.2,240.2 2015.4,235.8 2021.1,231.0 2026.3,225.9 2030.6,222.6 2036.6,217.9 2041.0,214.5 2046.5,208.9 2051.8,205.2 2057.4,201.9 2061.5,196.7 2068.3,193.5 2073.4,188.7 2079.3,185.8 2085.0,182.2 2090.9,178.9 2095.9,176.1 2102.1,174.4 2110.0,172.1 2116.1,170.7 2122.9,168.1 2128.5,167.6 2134.7,165.5" fill="none" stroke="#00ffff" stroke-width="3.6" stroke-linejoin="round" clip-path="url(#clipB)"/>
<polyline points="1803.9,851.7 1804.6,846.1 1804.6,839.1 1805.5,831.3 1806.4,825.6 1806.9,818.7 1808.2,811.1 1809.2,804.8 1810.1,799.0 1811.8,791.1 1812.9,785.1 1814.3,778.9 1814.9,771.2 1817.0,765.9 1817.8,757.7 1819.5,752.2 1820.8,745.9 1822.1,738.8 1822.2,731.8 1823.6,725.5 1825.0,719.0 1826.0,711.9 1828.2,705.6 1829.6,698.9 1829.7,691.7 1831.4,684.9 1832.6,678.0 1834.7,672.6 1836.9,666.3 1837.8,658.0 1838.7,651.5 1841.5,645.4 1842.9,639.0 1844.3,633.2 1846.1,625.2 1847.8,619.2 1850.0,612.5 1850.3,607.1 1852.3,599.0 1854.6,593.9 1855.7,586.0 1858.0,579.7 1858.5,572.6 1862.2,566.8 1863.4,560.8 1866.2,555.4 1866.8,548.1 1868.4,541.9 1870.3,534.9 1872.3,527.9 1873.1,520.2 1874.0,514.7 1876.5,507.8 1876.6,501.4 1879.4,494.8 1881.0,487.8 1882.2,480.6 1883.9,474.5 1886.2,468.2 1888.1,460.6 1889.9,454.0 1893.2,448.3 1895.5,440.3 1897.1,434.5 1898.6,428.5 1901.3,420.7 1903.8,414.3 1905.3,407.7 1907.5,400.1 1910.6,394.1 1912.4,387.3 1915.2,380.5 1916.7,374.2 1920.8,368.5 1923.1,360.9 1925.3,355.5 1928.4,348.4 1929.8,341.6 1933.9,335.9 1936.1,328.4 1939.2,322.4 1942.1,316.5 1945.4,308.8 1949.1,303.6 1951.4,297.1 1956.4,291.1 1959.3,284.5 1962.3,279.2 1965.5,272.1 1968.8,266.0 1974.0,260.7 1979.0,254.6 1982.1,249.4 1986.5,244.8 1990.5,238.3 1996.0,232.5 1999.7,227.2 2004.2,221.9 2010.1,216.3 2013.8,212.9 2020.1,207.5 2024.8,202.9 2029.6,198.2 2035.4,194.3 2040.9,190.1 2045.9,186.6 2051.3,181.4 2057.6,176.6 2064.4,173.5 2068.8,169.5 2074.8,166.4 2082.5,164.1 2087.6,161.5 2094.8,159.5 2100.6,156.1 2107.2,155.6 2113.8,152.9 2121.4,151.7 2127.6,152.1 2134.4,150.5" fill="none" stroke="#000080" stroke-width="3.6" stroke-linejoin="round" clip-path="url(#clipB)"/>
<polyline points="1800.0,852.7 1799.5,846.0 1801.8,837.7 1802.6,832.2 1802.3,825.8 1803.4,818.0 1804.7,811.7 1805.7,804.2 1806.1,797.2 1806.6,791.0 1807.1,784.0 1809.9,777.0 1810.6,770.1 1812.5,763.5 1813.0,758.0 1814.8,750.9 1816.2,744.1 1817.1,736.8 1817.7,730.1 1819.0,723.6 1821.3,716.7 1821.2,710.0 1822.6,704.4 1825.4,697.6 1826.9,690.5 1827.4,683.5 1829.2,676.6 1830.4,670.2 1832.1,664.4 1833.5,656.4 1835.0,650.8 1836.4,643.0 1837.3,637.2 1840.0,630.5 1841.7,624.0 1843.5,616.7 1845.1,611.1 1845.4,603.5 1847.3,597.8 1849.5,589.9 1851.3,583.7 1853.2,577.0 1853.4,570.5 1856.8,564.5 1859.6,557.7 1860.9,551.0 1863.7,545.1 1863.9,537.8 1865.9,530.7 1866.5,525.1 1868.6,518.4 1870.6,510.9 1871.8,504.9 1873.3,497.6 1874.5,489.8 1875.3,484.0 1877.9,477.4 1879.7,469.7 1881.6,463.2 1884.3,456.6 1886.5,450.4 1888.0,443.8 1890.9,436.5 1891.5,430.6 1894.0,423.9 1896.5,416.2 1899.4,408.9 1901.6,402.3 1903.7,396.7 1906.3,388.9 1909.1,382.6 1910.5,375.6 1912.8,369.4 1916.1,362.6 1919.6,355.7 1920.8,349.3 1923.6,342.6 1927.1,335.6 1930.0,328.3 1932.4,321.8 1935.2,315.1 1938.4,309.8 1942.9,302.8 1946.0,295.4 1948.7,290.2 1953.2,282.7 1956.9,277.9 1958.7,270.5 1963.8,264.1 1966.2,258.3 1971.1,252.7 1974.7,246.5 1978.9,241.6 1984.3,235.7 1987.0,228.4 1992.4,223.0 1997.1,217.9 2000.5,211.7 2006.7,206.9 2011.3,202.5 2015.8,196.7 2021.7,191.6 2026.7,187.6 2031.9,182.8 2038.8,179.6 2043.9,174.9 2050.3,170.6 2054.8,166.7 2061.4,163.2 2067.2,159.5 2072.8,156.4 2080.7,153.5 2087.4,152.1 2093.6,149.2 2100.8,147.0 2106.8,145.9 2113.3,145.6 2121.8,143.8 2128.3,142.6 2134.9,141.2" fill="none" stroke="#008080" stroke-width="3.6" stroke-linejoin="round" clip-path="url(#clipB)"/>
<polyline points="1801.7,852.1 1803.9,845.6 1803.9,838.2 1804.1,832.7 1806.1,824.6 1806.6,818.7 1808.0,811.2 1807.8,804.3 1809.2,798.9 1810.3,790.8 1810.6,784.0 1811.6,778.1 1813.0,771.0 1814.6,764.7 1817.1,757.7 1818.0,751.3 1818.6,744.4 1820.6,738.7 1821.7,732.1 1822.8,724.4 1823.1,718.1 1825.0,711.9 1826.9,705.3 1828.5,698.4 1829.4,692.0 1830.6,685.4 1832.7,678.2 1833.2,671.4 1835.1,665.1 1836.4,658.2 1838.4,652.1 1840.4,646.0 1840.4,638.4 1843.3,632.0 1844.8,625.0 1846.0,619.5 1848.1,612.9 1850.2,606.4 1851.7,599.8 1853.4,593.2 1854.2,585.7 1855.8,579.8 1858.4,573.0 1860.1,565.7 1862.1,559.5 1863.8,552.8 1865.7,546.6 1868.0,539.6 1867.8,534.1 1870.6,526.6 1871.2,519.4 1872.2,512.5 1872.9,506.8 1875.5,499.7 1875.3,492.3 1876.8,485.6 1878.5,478.5 1880.4,472.3 1883.7,464.5 1885.6,458.3 1886.1,451.5 1889.2,443.5 1890.7,436.6 1891.5,429.9 1893.6,423.5 1896.6,415.5 1898.0,408.2 1900.0,402.1 1902.8,395.7 1904.8,387.8 1907.7,381.2 1910.1,373.9 1912.8,366.7 1914.5,359.8 1917.1,353.6 1920.8,345.7 1922.8,339.0 1925.8,333.0 1928.8,326.5 1931.0,318.3 1934.2,311.8 1936.4,304.3 1940.7,298.1 1942.8,291.1 1946.2,284.2 1950.8,278.3 1953.4,271.4 1956.9,265.1 1961.1,257.8 1964.6,252.8 1969.1,245.9 1972.6,239.5 1976.3,233.3 1980.3,226.7 1984.3,222.2 1989.8,214.3 1993.4,208.8 1998.4,204.4 2003.2,198.8 2008.2,193.8 2013.3,188.3 2018.9,183.2 2024.3,179.3 2030.0,175.1 2035.2,170.5 2042.2,166.6 2047.6,161.1 2053.6,157.8 2059.4,154.3 2065.0,149.8 2071.6,148.1 2077.8,144.0 2086.1,143.4 2092.4,141.1 2100.3,139.0 2105.8,137.4 2114.0,136.8 2120.9,135.6 2128.5,136.5 2135.7,134.3" fill="none" stroke="#800080" stroke-width="3.6" stroke-linejoin="round" clip-path="url(#clipB)"/>
<polyline points="1796.3,852.6 1798.5,845.0 1798.1,837.8 1798.6,831.0 1799.6,825.4 1800.3,817.3 1802.4,811.8 1801.7,803.9 1804.1,797.2 1804.3,791.0 1805.2,783.0 1806.7,777.7 1807.7,770.1 1809.6,764.5 1811.4,756.4 1812.5,750.2 1814.0,744.3 1814.3,737.4 1816.1,729.2 1816.4,723.9 1817.2,716.2 1819.1,709.3 1820.7,702.2 1821.8,696.2 1822.2,689.9 1824.9,683.3 1825.3,676.0 1826.6,669.6 1828.8,663.2 1829.4,655.3 1830.8,649.8 1833.4,641.7 1835.2,635.6 1836.2,629.5 1838.4,622.3 1839.2,615.5 1841.0,608.4 1842.2,602.4 1845.2,595.8 1845.7,588.1 1848.2,581.9 1848.7,576.0 1851.4,568.2 1852.7,562.2 1857.2,556.5 1857.4,550.1 1859.6,542.4 1860.2,536.0 1863.2,529.3 1864.6,522.3 1864.8,514.9 1866.6,508.1 1868.6,502.0 1868.2,495.1 1870.3,488.1 1872.3,480.3 1874.0,474.4 1875.3,468.1 1878.5,460.0 1879.4,453.5 1882.4,447.1 1883.6,440.1 1886.4,432.4 1888.4,426.3 1890.9,418.4 1891.8,412.5 1895.6,405.3 1897.6,398.0 1898.5,391.5 1901.2,385.0 1904.7,376.7 1906.6,371.2 1908.9,363.4 1911.6,357.4 1916.0,350.6 1918.7,342.9 1921.4,337.4 1924.2,329.1 1926.0,323.6 1929.7,315.7 1932.0,308.3 1936.0,302.5 1938.1,294.9 1943.1,289.8 1944.9,281.8 1950.0,275.8 1953.5,269.3 1956.2,263.6 1959.8,257.1 1964.4,249.3 1968.7,244.5 1971.4,237.6 1976.1,231.0 1980.6,226.0 1984.9,219.6 1988.1,213.2 1993.6,207.0 1998.4,201.9 2003.7,196.5 2008.2,191.5 2012.6,186.4 2018.8,181.6 2024.5,177.0 2028.8,172.2 2035.1,167.0 2041.8,163.8 2046.4,159.4 2053.0,155.7 2059.8,152.0 2065.5,148.6 2071.3,144.3 2078.8,142.6 2084.6,140.4 2091.9,138.3 2099.7,137.2 2106.0,136.3 2114.1,134.8 2120.8,134.1 2127.4,133.5 2134.6,132.7" fill="none" stroke="#ff00ff" stroke-width="3.6" stroke-linejoin="round" clip-path="url(#clipB)"/>
<polyline points="1804.9,851.9 1806.3,844.6 1807.1,839.5 1808.1,832.0 1809.4,825.2 1809.4,819.2 1810.1,812.7 1812.3,805.4 1812.5,797.8 1812.8,792.4 1814.8,785.5 1815.1,779.1 1818.0,772.8 1818.8,765.4 1819.8,758.3 1820.4,753.1 1822.2,745.4 1823.5,739.9 1825.5,732.7 1826.4,725.8 1827.3,719.6 1828.6,711.6 1829.7,706.0 1831.6,700.1 1833.3,692.6 1834.2,686.7 1836.2,679.4 1837.1,673.2 1838.7,666.8 1840.9,659.8 1842.0,652.8 1844.0,647.2 1845.3,640.0 1846.1,633.3 1848.0,627.7 1850.3,621.3 1852.6,613.8 1852.8,608.0 1855.0,601.7 1856.7,594.1 1859.2,588.5 1860.6,581.9 1862.5,575.7 1863.4,568.0 1865.8,562.9 1868.2,556.3 1868.8,548.6 1871.5,542.7 1871.4,535.0 1873.7,529.4 1873.6,522.8 1874.7,514.8 1876.7,508.6 1878.2,500.1 1878.1,493.3 1879.1,487.3 1880.7,479.9 1883.3,473.5 1884.7,466.4 1886.5,458.5 1887.4,452.8 1889.2,445.6 1890.5,437.4 1893.3,430.1 1895.5,423.7 1897.1,416.6 1898.9,408.4 1899.9,401.3 1901.8,393.8 1903.5,387.4 1907.3,380.6 1909.1,373.9 1911.4,366.2 1913.9,359.0 1915.6,351.1 1919.5,344.6 1921.9,336.7 1924.0,331.1 1925.7,324.0 1929.1,316.0 1932.6,309.1 1935.0,302.6 1938.0,293.9 1940.9,288.8 1944.7,280.8 1948.8,274.3 1951.8,267.8 1955.7,259.9 1959.6,254.2 1963.4,247.6 1966.0,239.9 1971.6,233.8 1975.7,228.8 1979.4,221.8 1981.9,215.6 1986.5,209.2 1992.2,202.0 1996.2,196.9 2000.9,192.7 2006.9,186.7 2012.1,181.4 2015.9,176.2 2022.5,171.6 2028.5,166.5 2034.0,163.0 2039.5,159.0 2045.1,153.8 2051.4,150.7 2058.6,147.1 2064.8,143.5 2071.4,139.8 2076.8,137.0 2085.5,134.9 2091.9,133.5 2098.0,133.0 2106.3,130.8 2113.4,130.8 2120.5,130.6 2128.3,130.2 2135.2,129.9" fill="none" stroke="#ffff00" stroke-width="3.6" stroke-linejoin="round" clip-path="url(#clipB)"/>
<polyline points="1789.5,851.8 1789.9,844.6 1790.0,837.7 1790.7,830.3 1791.2,823.8 1791.1,817.7 1793.4,809.6 1793.5,803.3 1793.8,796.4 1794.9,788.9 1795.1,782.4 1797.8,776.3 1798.9,768.6 1800.6,762.7 1802.1,754.4 1802.6,747.6 1803.8,741.9 1805.0,734.0 1805.5,726.7 1807.8,721.3 1809.0,712.6 1809.0,706.0 1810.6,699.2 1811.9,692.8 1813.5,686.0 1814.6,678.3 1816.7,672.1 1817.8,665.1 1817.7,659.4 1819.8,651.0 1822.1,645.6 1822.1,638.8 1823.7,630.5 1825.3,625.0 1827.7,617.6 1829.4,610.3 1829.8,603.0 1831.6,597.1 1832.8,589.3 1834.5,582.4 1835.8,575.8 1837.4,569.3 1840.2,563.1 1841.9,555.9 1845.7,550.4 1847.9,543.9 1850.0,537.2 1850.7,529.7 1853.6,523.2 1855.0,517.1 1856.4,509.7 1857.9,502.2 1858.5,495.5 1860.1,488.2 1861.5,481.2 1863.6,474.5 1867.2,467.6 1869.6,462.2 1871.1,455.1 1874.3,449.3 1876.8,441.1 1878.3,434.5 1880.9,429.0 1884.6,421.0 1886.9,415.7 1888.4,408.3 1890.9,401.4 1894.4,394.3 1896.4,388.3 1900.0,382.4 1903.0,374.9 1905.0,369.2 1908.9,362.5 1911.5,356.3 1913.7,348.4 1917.9,342.0 1920.7,336.0 1923.6,328.9 1927.2,322.8 1928.6,315.9 1932.8,310.4 1936.2,304.0 1939.0,296.0 1942.8,291.3 1946.6,284.9 1950.8,278.7 1953.8,270.9 1957.6,264.7 1961.0,258.8 1964.8,253.1 1969.5,248.0 1974.0,242.0 1977.0,235.8 1981.6,229.7 1985.1,223.8 1990.8,218.6 1995.3,211.8 2000.3,207.2 2004.5,202.2 2009.5,196.8 2015.7,192.4 2020.1,187.4 2024.7,181.8 2030.3,178.0 2037.5,173.1 2042.2,170.3 2047.7,165.3 2054.9,161.8 2060.1,157.5 2066.1,154.1 2073.7,151.2 2079.1,148.8 2085.9,145.8 2093.0,143.8 2100.7,141.8 2106.6,140.3 2113.3,141.0 2120.3,140.0 2128.2,137.9 2135.8,137.0" fill="none" stroke="#800000" stroke-width="3.6" stroke-linejoin="round" clip-path="url(#clipB)"/>
<polyline points="1782.0,851.5 1782.7,844.9 1782.3,838.0 1782.5,830.2 1783.5,823.1 1784.5,816.4 1784.5,809.0 1784.8,802.7 1786.5,795.0 1786.9,787.8 1787.5,780.6 1788.7,774.0 1790.8,767.7 1791.0,759.5 1793.2,752.8 1794.2,747.1 1796.6,738.4 1796.0,732.5 1798.7,725.9 1799.3,718.6 1800.0,711.1 1801.8,703.4 1802.7,697.5 1802.9,690.5 1804.1,683.9 1806.4,676.0 1807.3,669.9 1808.1,661.5 1809.9,655.7 1810.2,648.5 1812.1,641.4 1813.8,634.9 1815.4,628.0 1817.6,619.5 1819.1,613.7 1819.2,606.4 1820.8,598.5 1821.9,592.1 1824.8,584.6 1825.7,579.0 1826.8,571.8 1828.6,564.9 1829.9,558.3 1833.2,550.8 1836.2,544.7 1838.3,539.2 1840.0,532.0 1842.7,524.4 1843.0,516.9 1846.2,510.3 1847.5,502.8 1847.9,496.2 1850.0,488.9 1852.1,482.5 1853.6,475.0 1855.7,468.1 1858.5,461.6 1861.3,455.9 1863.3,448.5 1865.5,442.2 1868.9,435.0 1871.5,427.3 1874.7,420.4 1876.0,414.4 1879.9,408.0 1882.5,400.5 1884.5,394.1 1886.5,386.4 1889.4,379.5 1891.8,373.1 1896.6,367.3 1899.6,360.6 1902.3,354.6 1905.3,346.9 1908.5,339.9 1911.3,333.7 1915.6,326.9 1918.5,320.4 1922.2,313.7 1924.9,308.0 1928.7,301.6 1930.7,294.2 1934.4,288.4 1938.2,281.8 1942.5,275.4 1946.7,269.2 1950.6,261.9 1954.0,256.5 1958.1,249.4 1962.2,243.7 1965.5,237.0 1969.6,231.7 1973.3,225.5 1977.1,218.1 1982.3,212.8 1985.6,205.9 1990.8,201.2 1995.6,195.4 2000.8,190.8 2006.8,185.2 2010.8,179.7 2016.2,174.9 2021.4,169.9 2027.6,165.4 2034.2,160.8 2038.7,155.7 2044.1,152.6 2051.9,148.7 2057.2,144.3 2064.1,141.1 2070.0,138.9 2076.7,135.7 2085.1,134.2 2091.4,132.8 2099.5,130.7 2106.3,129.5 2113.4,128.6 2119.6,128.4 2128.1,128.0 2135.4,127.7" fill="none" stroke="#00ff00" stroke-width="3.6" stroke-linejoin="round" clip-path="url(#clipB)"/>
<polyline points="1776.2,852.3 1776.9,845.2 1777.9,838.1 1777.0,829.9 1778.0,823.1 1779.4,816.5 1779.0,808.6 1779.1,801.9 1780.8,793.9 1780.4,787.1 1781.3,779.7 1781.9,773.5 1783.9,766.4 1786.6,759.2 1788.2,752.6 1788.2,744.6 1790.3,737.9 1790.2,731.4 1792.4,723.5 1793.2,715.9 1794.3,708.8 1795.6,703.1 1795.9,694.7 1797.6,688.7 1798.0,680.7 1800.0,673.2 1800.2,667.2 1802.3,659.8 1803.3,651.8 1804.4,645.4 1805.9,637.8 1806.6,631.3 1809.2,624.6 1811.1,617.0 1811.5,609.8 1813.2,603.4 1815.3,595.3 1816.1,589.5 1817.8,581.8 1818.0,574.5 1820.3,568.3 1821.1,560.4 1822.8,552.9 1827.6,547.3 1830.3,542.2 1833.2,534.2 1835.2,528.2 1836.3,520.5 1838.5,514.4 1839.9,506.3 1842.0,499.9 1843.9,493.2 1845.3,486.3 1846.6,478.8 1849.0,471.5 1850.5,465.6 1854.1,458.3 1857.0,451.4 1860.4,444.7 1862.2,438.7 1865.5,431.5 1867.7,425.2 1871.1,418.7 1874.4,411.6 1876.2,404.5 1879.9,399.5 1883.1,392.8 1884.9,384.9 1888.7,378.6 1891.5,372.9 1894.3,366.8 1897.9,359.8 1902.2,353.3 1905.7,346.5 1908.3,340.8 1913.0,333.3 1914.8,328.6 1918.0,320.6 1922.1,314.5 1925.8,308.4 1929.4,301.3 1931.8,295.1 1936.3,290.2 1939.3,282.6 1942.6,276.4 1948.0,271.6 1951.7,264.0 1954.0,259.3 1959.1,253.0 1963.4,247.0 1965.9,241.0 1971.1,235.3 1974.6,228.4 1978.6,223.1 1983.5,217.3 1987.6,211.3 1992.0,204.6 1996.6,199.4 2001.6,195.5 2008.0,190.9 2013.3,184.4 2017.3,179.6 2023.0,174.3 2029.5,171.1 2034.7,166.4 2040.8,162.1 2046.5,157.8 2053.3,153.4 2058.0,149.7 2065.3,147.0 2072.3,143.8 2078.9,141.4 2084.9,138.7 2092.5,137.4 2098.6,135.2 2106.9,135.4 2113.9,133.2 2119.8,133.5 2127.6,133.5 2134.9,132.4" fill="none" stroke="#ff0000" stroke-width="3.6" stroke-linejoin="round" clip-path="url(#clipB)"/>
<polyline points="1770.2,852.7 1771.8,843.9 1771.9,837.0 1772.9,830.8 1772.3,823.1 1773.0,815.2 1773.3,808.2 1773.8,801.9 1774.6,793.0 1774.4,787.4 1775.6,779.5 1777.1,772.5 1777.8,764.9 1779.6,757.4 1782.0,750.0 1782.6,744.1 1784.9,736.2 1785.9,729.9 1785.6,722.8 1786.7,714.8 1787.6,706.9 1789.7,701.1 1789.7,692.9 1791.7,686.2 1791.9,679.2 1792.9,672.4 1795.0,664.7 1796.6,656.8 1796.4,650.3 1798.7,643.6 1800.0,635.9 1800.6,629.1 1802.6,622.1 1804.2,614.2 1805.4,606.6 1806.2,600.4 1808.3,591.9 1808.8,585.5 1810.8,578.2 1811.8,572.1 1813.1,564.1 1815.5,556.7 1816.1,549.3 1820.7,544.3 1823.5,537.8 1825.9,531.4 1828.2,523.4 1830.9,516.7 1832.0,510.6 1833.3,502.6 1836.3,495.5 1838.2,489.0 1840.3,481.9 1842.2,474.8 1843.0,467.6 1846.4,461.5 1849.4,454.5 1852.2,448.3 1856.1,442.0 1858.1,434.8 1862.4,428.7 1864.8,422.4 1867.4,415.7 1872.1,409.0 1873.8,403.1 1877.7,395.9 1880.1,388.9 1882.9,383.8 1886.5,377.4 1891.0,371.0 1893.5,363.7 1898.2,357.6 1900.4,351.9 1904.2,345.5 1907.6,338.9 1910.9,334.3 1914.6,327.2 1919.0,321.2 1922.8,315.7 1925.7,308.5 1929.3,302.1 1932.0,296.1 1936.1,289.6 1939.9,283.8 1943.1,278.9 1947.7,272.2 1950.8,265.7 1954.6,260.8 1959.6,254.2 1963.7,248.2 1967.6,243.4 1971.1,237.2 1975.9,230.7 1979.7,225.6 1983.7,220.2 1988.4,213.5 1993.3,208.5 1998.4,203.2 2003.4,198.1 2009.2,193.7 2013.6,188.3 2018.7,184.4 2024.6,179.6 2030.8,174.8 2036.0,169.8 2041.8,165.1 2047.2,161.8 2053.3,157.5 2059.8,154.3 2065.9,150.8 2072.0,147.5 2077.8,144.6 2085.1,143.0 2091.8,141.1 2099.2,139.3 2107.1,138.2 2114.3,137.2 2121.4,137.3 2128.6,135.2 2134.3,134.7" fill="none" stroke="#000000" stroke-width="3.6" stroke-linejoin="round" clip-path="url(#clipB)"/>
<polyline points="1773.1,851.3 1774.3,844.3 1774.7,836.9 1775.8,830.6 1775.0,822.3 1776.4,816.6 1776.0,807.9 1777.5,802.1 1777.1,793.5 1778.0,787.8 1777.8,779.5 1780.4,773.1 1782.1,765.8 1782.5,759.3 1785.1,752.1 1785.8,744.0 1788.0,738.0 1787.4,729.3 1788.5,723.2 1789.8,715.1 1791.3,709.4 1792.3,700.6 1792.7,693.8 1794.2,686.5 1794.8,679.6 1796.2,672.2 1797.1,665.7 1799.4,658.2 1799.4,651.1 1800.5,643.5 1802.2,637.7 1803.3,629.9 1804.7,622.6 1807.9,616.3 1808.4,608.2 1809.5,601.6 1811.2,594.0 1811.8,587.8 1814.9,581.0 1815.4,572.9 1816.1,566.8 1818.0,558.1 1820.4,552.0 1823.8,545.7 1826.7,540.0 1829.9,532.7 1831.9,525.0 1833.6,518.6 1833.8,512.0 1836.8,504.9 1837.7,497.4 1839.7,490.5 1841.1,482.3 1842.7,475.6 1843.9,468.2 1847.6,462.0 1849.6,455.9 1852.1,447.6 1856.1,442.4 1859.3,435.2 1861.4,427.8 1865.1,421.7 1866.5,415.3 1870.3,408.6 1872.5,400.9 1875.6,393.8 1877.9,388.1 1881.7,381.2 1884.4,373.9 1886.4,367.6 1890.1,360.7 1894.4,353.4 1898.0,346.6 1900.4,341.3 1904.3,334.3 1908.4,327.8 1912.2,321.7 1914.6,313.8 1918.4,308.7 1921.3,301.8 1925.1,295.4 1927.7,287.4 1932.5,282.2 1936.6,275.6 1939.3,268.7 1942.7,262.2 1947.4,255.1 1950.7,250.2 1955.4,243.5 1960.1,237.8 1964.3,230.2 1967.6,223.6 1970.9,217.8 1974.6,211.0 1979.7,206.0 1983.2,198.6 1988.6,193.0 1994.2,187.5 1998.2,183.8 2004.2,177.5 2008.2,172.8 2014.1,166.4 2020.3,161.5 2025.9,157.8 2031.6,152.6 2037.9,149.8 2042.2,144.3 2049.7,140.9 2056.8,137.7 2062.6,135.4 2069.2,131.6 2075.9,127.6 2083.7,127.0 2090.0,126.4 2098.4,125.0 2105.4,124.0 2112.4,123.8 2120.4,123.8 2127.6,123.6 2134.4,123.3" fill="none" stroke="#000080" stroke-width="3.6" stroke-linejoin="round" clip-path="url(#clipB)"/>
<rect x="1382" y="50" width="753" height="802" fill="none" stroke="#1a1a1a" stroke-width="2.2"/>
<line x1="1368.5" y1="50.0" x2="1382.0" y2="50.0" stroke="#1a1a1a" stroke-width="2.2"/>
<line x1="1368.5" y1="292.3" x2="1382.0" y2="292.3" stroke="#1a1a1a" stroke-width="2.2"/>
<line x1="1368.5" y1="534.6" x2="1382.0" y2="534.6" stroke="#1a1a1a" stroke-width="2.2"/>
<line x1="1368.5" y1="776.9" x2="1382.0" y2="776.9" stroke="#1a1a1a" stroke-width="2.2"/>
<line x1="1372.6" y1="219.4" x2="1382.0" y2="219.4" stroke="#1a1a1a" stroke-width="2.2"/>
<line x1="1372.6" y1="176.7" x2="1382.0" y2="176.7" stroke="#1a1a1a" stroke-width="2.2"/>
<line x1="1372.6" y1="146.4" x2="1382.0" y2="146.4" stroke="#1a1a1a" stroke-width="2.2"/>
<line x1="1372.6" y1="122.9" x2="1382.0" y2="122.9" stroke="#1a1a1a" stroke-width="2.2"/>
<line x1="1372.6" y1="103.8" x2="1382.0" y2="103.8" stroke="#1a1a1a" stroke-width="2.2"/>
<line x1="1372.6" y1="87.5" x2="1382.0" y2="87.5" stroke="#1a1a1a" stroke-width="2.2"/>
<line x1="1372.6" y1="73.5" x2="1382.0" y2="73.5" stroke="#1a1a1a" stroke-width="2.2"/>
<line x1="1372.6" y1="61.1" x2="1382.0" y2="61.1" stroke="#1a1a1a" stroke-width="2.2"/>
<line x1="1372.6" y1="461.7" x2="1382.0" y2="461.7" stroke="#1a1a1a" stroke-width="2.2"/>
<line x1="1372.6" y1="419.0" x2="1382.0" y2="419.0" stroke="#1a1a1a" stroke-width="2.2"/>
<line x1="1372.6" y1="388.7" x2="1382.0" y2="388.7" stroke="#1a1a1a" stroke-width="2.2"/>
<line x1="1372.6" y1="365.2" x2="1382.0" y2="365.2" stroke="#1a1a1a" stroke-width="2.2"/>
<line x1="1372.6" y1="346.1" x2="1382.0" y2="346.1" stroke="#1a1a1a" stroke-width="2.2"/>
<line x1="1372.6" y1="329.8" x2="1382.0" y2="329.8" stroke="#1a1a1a" stroke-width="2.2"/>
<line x1="1372.6" y1="315.8" x2="1382.0" y2="315.8" stroke="#1a1a1a" stroke-width="2.2"/>
<line x1="1372.6" y1="303.4" x2="1382.0" y2="303.4" stroke="#1a1a1a" stroke-width="2.2"/>
<line x1="1372.6" y1="704.0" x2="1382.0" y2="704.0" stroke="#1a1a1a" stroke-width="2.2"/>
<line x1="1372.6" y1="661.3" x2="1382.0" y2="661.3" stroke="#1a1a1a" stroke-width="2.2"/>
<line x1="1372.6" y1="631.0" x2="1382.0" y2="631.0" stroke="#1a1a1a" stroke-width="2.2"/>
<line x1="1372.6" y1="607.5" x2="1382.0" y2="607.5" stroke="#1a1a1a" stroke-width="2.2"/>
<line x1="1372.6" y1="588.4" x2="1382.0" y2="588.4" stroke="#1a1a1a" stroke-width="2.2"/>
<line x1="1372.6" y1="572.1" x2="1382.0" y2="572.1" stroke="#1a1a1a" stroke-width="2.2"/>
<line x1="1372.6" y1="558.1" x2="1382.0" y2="558.1" stroke="#1a1a1a" stroke-width="2.2"/>
<line x1="1372.6" y1="545.7" x2="1382.0" y2="545.7" stroke="#1a1a1a" stroke-width="2.2"/>
<line x1="1372.6" y1="849.8" x2="1382.0" y2="849.8" stroke="#1a1a1a" stroke-width="2.2"/>
<line x1="1372.6" y1="830.7" x2="1382.0" y2="830.7" stroke="#1a1a1a" stroke-width="2.2"/>
<line x1="1372.6" y1="814.4" x2="1382.0" y2="814.4" stroke="#1a1a1a" stroke-width="2.2"/>
<line x1="1372.6" y1="800.4" x2="1382.0" y2="800.4" stroke="#1a1a1a" stroke-width="2.2"/>
<line x1="1372.6" y1="788.0" x2="1382.0" y2="788.0" stroke="#1a1a1a" stroke-width="2.2"/>
<line x1="2126.0" y1="50.0" x2="2135.0" y2="50.0" stroke="#1a1a1a" stroke-width="2.2"/>
<line x1="2126.0" y1="292.3" x2="2135.0" y2="292.3" stroke="#1a1a1a" stroke-width="2.2"/>
<line x1="2126.0" y1="534.6" x2="2135.0" y2="534.6" stroke="#1a1a1a" stroke-width="2.2"/>
<line x1="2126.0" y1="776.9" x2="2135.0" y2="776.9" stroke="#1a1a1a" stroke-width="2.2"/>
<line x1="2131.0" y1="219.4" x2="2135.0" y2="219.4" stroke="#1a1a1a" stroke-width="2.2"/>
<line x1="2131.0" y1="176.7" x2="2135.0" y2="176.7" stroke="#1a1a1a" stroke-width="2.2"/>
<line x1="2131.0" y1="146.4" x2="2135.0" y2="146.4" stroke="#1a1a1a" stroke-width="2.2"/>
<line x1="2131.0" y1="122.9" x2="2135.0" y2="122.9" stroke="#1a1a1a" stroke-width="2.2"/>
<line x1="2131.0" y1="103.8" x2="2135.0" y2="103.8" stroke="#1a1a1a" stroke-width="2.2"/>
<line x1="2131.0" y1="87.5" x2="2135.0" y2="87.5" stroke="#1a1a1a" stroke-width="2.2"/>
<line x1="2131.0" y1="73.5" x2="2135.0" y2="73.5" stroke="#1a1a1a" stroke-width="2.2"/>
<line x1="2131.0" y1="61.1" x2="2135.0" y2="61.1" stroke="#1a1a1a" stroke-width="2.2"/>
<line x1="2131.0" y1="461.7" x2="2135.0" y2="461.7" stroke="#1a1a1a" stroke-width="2.2"/>
<line x1="2131.0" y1="419.0" x2="2135.0" y2="419.0" stroke="#1a1a1a" stroke-width="2.2"/>
<line x1="2131.0" y1="388.7" x2="2135.0" y2="388.7" stroke="#1a1a1a" stroke-width="2.2"/>
<line x1="2131.0" y1="365.2" x2="2135.0" y2="365.2" stroke="#1a1a1a" stroke-width="2.2"/>
<line x1="2131.0" y1="346.1" x2="2135.0" y2="346.1" stroke="#1a1a1a" stroke-width="2.2"/>
<line x1="2131.0" y1="329.8" x2="2135.0" y2="329.8" stroke="#1a1a1a" stroke-width="2.2"/>
<line x1="2131.0" y1="315.8" x2="2135.0" y2="315.8" stroke="#1a1a1a" stroke-width="2.2"/>
<line x1="2131.0" y1="303.4" x2="2135.0" y2="303.4" stroke="#1a1a1a" stroke-width="2.2"/>
<line x1="2131.0" y1="704.0" x2="2135.0" y2="704.0" stroke="#1a1a1a" stroke-width="2.2"/>
<line x1="2131.0" y1="661.3" x2="2135.0" y2="661.3" stroke="#1a1a1a" stroke-width="2.2"/>
<line x1="2131.0" y1="631.0" x2="2135.0" y2="631.0" stroke="#1a1a1a" stroke-width="2.2"/>
<line x1="2131.0" y1="607.5" x2="2135.0" y2="607.5" stroke="#1a1a1a" stroke-width="2.2"/>
<line x1="2131.0" y1="588.4" x2="2135.0" y2="588.4" stroke="#1a1a1a" stroke-width="2.2"/>
<line x1="2131.0" y1="572.1" x2="2135.0" y2="572.1" stroke="#1a1a1a" stroke-width="2.2"/>
<line x1="2131.0" y1="558.1" x2="2135.0" y2="558.1" stroke="#1a1a1a" stroke-width="2.2"/>
<line x1="2131.0" y1="545.7" x2="2135.0" y2="545.7" stroke="#1a1a1a" stroke-width="2.2"/>
<line x1="2131.0" y1="849.8" x2="2135.0" y2="849.8" stroke="#1a1a1a" stroke-width="2.2"/>
<line x1="2131.0" y1="830.7" x2="2135.0" y2="830.7" stroke="#1a1a1a" stroke-width="2.2"/>
<line x1="2131.0" y1="814.4" x2="2135.0" y2="814.4" stroke="#1a1a1a" stroke-width="2.2"/>
<line x1="2131.0" y1="800.4" x2="2135.0" y2="800.4" stroke="#1a1a1a" stroke-width="2.2"/>
<line x1="2131.0" y1="788.0" x2="2135.0" y2="788.0" stroke="#1a1a1a" stroke-width="2.2"/>
<line x1="1382.0" y1="852.0" x2="1382.0" y2="862.4" stroke="#1a1a1a" stroke-width="2.2"/>
<line x1="1570.2" y1="852.0" x2="1570.2" y2="862.4" stroke="#1a1a1a" stroke-width="2.2"/>
<line x1="1758.5" y1="852.0" x2="1758.5" y2="862.4" stroke="#1a1a1a" stroke-width="2.2"/>
<line x1="1946.8" y1="852.0" x2="1946.8" y2="862.4" stroke="#1a1a1a" stroke-width="2.2"/>
<line x1="2135.0" y1="852.0" x2="2135.0" y2="862.4" stroke="#1a1a1a" stroke-width="2.2"/>
<line x1="1476.1" y1="852.0" x2="1476.1" y2="858.7" stroke="#1a1a1a" stroke-width="2.2"/>
<line x1="1664.4" y1="852.0" x2="1664.4" y2="858.7" stroke="#1a1a1a" stroke-width="2.2"/>
<line x1="1852.6" y1="852.0" x2="1852.6" y2="858.7" stroke="#1a1a1a" stroke-width="2.2"/>
<line x1="2040.9" y1="852.0" x2="2040.9" y2="858.7" stroke="#1a1a1a" stroke-width="2.2"/>
<line x1="1382.0" y1="50.0" x2="1382.0" y2="60.0" stroke="#1a1a1a" stroke-width="2.2"/>
<line x1="1570.2" y1="50.0" x2="1570.2" y2="60.0" stroke="#1a1a1a" stroke-width="2.2"/>
<line x1="1758.5" y1="50.0" x2="1758.5" y2="60.0" stroke="#1a1a1a" stroke-width="2.2"/>
<line x1="1946.8" y1="50.0" x2="1946.8" y2="60.0" stroke="#1a1a1a" stroke-width="2.2"/>
<line x1="2135.0" y1="50.0" x2="2135.0" y2="60.0" stroke="#1a1a1a" stroke-width="2.2"/>
<line x1="1476.1" y1="50.0" x2="1476.1" y2="55.5" stroke="#1a1a1a" stroke-width="2.2"/>
<line x1="1664.4" y1="50.0" x2="1664.4" y2="55.5" stroke="#1a1a1a" stroke-width="2.2"/>
<line x1="1852.6" y1="50.0" x2="1852.6" y2="55.5" stroke="#1a1a1a" stroke-width="2.2"/>
<line x1="2040.9" y1="50.0" x2="2040.9" y2="55.5" stroke="#1a1a1a" stroke-width="2.2"/>
<text x="1238.6" y="86.9" font-size="74" text-anchor="start" font-family="'Liberation Sans', Arial, sans-serif">10</text>
<text x="1321.0" y="43.9" font-size="42" text-anchor="start" font-family="'Liberation Sans', Arial, sans-serif">-6</text>
<text x="1238.6" y="329.2" font-size="74" text-anchor="start" font-family="'Liberation Sans', Arial, sans-serif">10</text>
<text x="1321.0" y="286.2" font-size="42" text-anchor="start" font-family="'Liberation Sans', Arial, sans-serif">-7</text>
<text x="1238.6" y="571.5" font-size="74" text-anchor="start" font-family="'Liberation Sans', Arial, sans-serif">10</text>
<text x="1321.0" y="528.5" font-size="42" text-anchor="start" font-family="'Liberation Sans', Arial, sans-serif">-8</text>
<text x="1238.6" y="813.8" font-size="74" text-anchor="start" font-family="'Liberation Sans', Arial, sans-serif">10</text>
<text x="1321.0" y="770.8" font-size="42" text-anchor="start" font-family="'Liberation Sans', Arial, sans-serif">-9</text>
<text x="1379.5" y="926.0" font-size="74" text-anchor="middle" font-family="'Liberation Sans', Arial, sans-serif">-0.6</text>
<text x="1567.4" y="926.0" font-size="74" text-anchor="middle" font-family="'Liberation Sans', Arial, sans-serif">-0.3</text>
<text x="1755.6" y="926.0" font-size="74" text-anchor="middle" font-family="'Liberation Sans', Arial, sans-serif">0.0</text>
<text x="1944.1" y="926.0" font-size="74" text-anchor="middle" font-family="'Liberation Sans', Arial, sans-serif">0.3</text>
<text x="2131.3" y="926.0" font-size="74" text-anchor="middle" font-family="'Liberation Sans', Arial, sans-serif">0.6</text>
<text x="1659.0" y="989.4" font-size="74" text-anchor="start" font-family="'Liberation Sans', Arial, sans-serif">V</text>
<text x="1708.5" y="1015.0" font-size="42" text-anchor="start" font-family="'Liberation Sans', Arial, sans-serif">tip</text>
<text x="1778.5" y="989.4" font-size="74" text-anchor="start" font-family="'Liberation Sans', Arial, sans-serif">(V)</text>
<text transform="translate(1241.7,498.4) rotate(-90)" font-size="74" font-family="'Liberation Sans', Arial, sans-serif">I (A)</text>
<text x="1391.0" y="120.2" font-size="74" text-anchor="start" font-family="'Liberation Sans', Arial, sans-serif">(b)</text>
<rect x="247" y="1046.3" width="746.5" height="795.7" fill="none" stroke="#1a1a1a" stroke-width="2.2"/>
<line x1="233.2" y1="1046.3" x2="247.0" y2="1046.3" stroke="#1a1a1a" stroke-width="2.2"/>
<line x1="233.2" y1="1287.6" x2="247.0" y2="1287.6" stroke="#1a1a1a" stroke-width="2.2"/>
<line x1="233.2" y1="1528.9" x2="247.0" y2="1528.9" stroke="#1a1a1a" stroke-width="2.2"/>
<line x1="233.2" y1="1770.2" x2="247.0" y2="1770.2" stroke="#1a1a1a" stroke-width="2.2"/>
<line x1="240.0" y1="1215.0" x2="247.0" y2="1215.0" stroke="#1a1a1a" stroke-width="2.2"/>
<line x1="240.0" y1="1172.5" x2="247.0" y2="1172.5" stroke="#1a1a1a" stroke-width="2.2"/>
<line x1="240.0" y1="1142.3" x2="247.0" y2="1142.3" stroke="#1a1a1a" stroke-width="2.2"/>
<line x1="240.0" y1="1118.9" x2="247.0" y2="1118.9" stroke="#1a1a1a" stroke-width="2.2"/>
<line x1="240.0" y1="1099.8" x2="247.0" y2="1099.8" stroke="#1a1a1a" stroke-width="2.2"/>
<line x1="240.0" y1="1083.7" x2="247.0" y2="1083.7" stroke="#1a1a1a" stroke-width="2.2"/>
<line x1="240.0" y1="1069.7" x2="247.0" y2="1069.7" stroke="#1a1a1a" stroke-width="2.2"/>
<line x1="240.0" y1="1057.3" x2="247.0" y2="1057.3" stroke="#1a1a1a" stroke-width="2.2"/>
<line x1="240.0" y1="1456.3" x2="247.0" y2="1456.3" stroke="#1a1a1a" stroke-width="2.2"/>
<line x1="240.0" y1="1413.8" x2="247.0" y2="1413.8" stroke="#1a1a1a" stroke-width="2.2"/>
<line x1="240.0" y1="1383.6" x2="247.0" y2="1383.6" stroke="#1a1a1a" stroke-width="2.2"/>
<line x1="240.0" y1="1360.2" x2="247.0" y2="1360.2" stroke="#1a1a1a" stroke-width="2.2"/>
<line x1="240.0" y1="1341.1" x2="247.0" y2="1341.1" stroke="#1a1a1a" stroke-width="2.2"/>
<line x1="240.0" y1="1325.0" x2="247.0" y2="1325.0" stroke="#1a1a1a" stroke-width="2.2"/>
<line x1="240.0" y1="1311.0" x2="247.0" y2="1311.0" stroke="#1a1a1a" stroke-width="2.2"/>
<line x1="240.0" y1="1298.6" x2="247.0" y2="1298.6" stroke="#1a1a1a" stroke-width="2.2"/>
<line x1="240.0" y1="1697.6" x2="247.0" y2="1697.6" stroke="#1a1a1a" stroke-width="2.2"/>
<line x1="240.0" y1="1655.1" x2="247.0" y2="1655.1" stroke="#1a1a1a" stroke-width="2.2"/>
<line x1="240.0" y1="1624.9" x2="247.0" y2="1624.9" stroke="#1a1a1a" stroke-width="2.2"/>
<line x1="240.0" y1="1601.5" x2="247.0" y2="1601.5" stroke="#1a1a1a" stroke-width="2.2"/>
<line x1="240.0" y1="1582.4" x2="247.0" y2="1582.4" stroke="#1a1a1a" stroke-width="2.2"/>
<line x1="240.0" y1="1566.3" x2="247.0" y2="1566.3" stroke="#1a1a1a" stroke-width="2.2"/>
<line x1="240.0" y1="1552.3" x2="247.0" y2="1552.3" stroke="#1a1a1a" stroke-width="2.2"/>
<line x1="240.0" y1="1539.9" x2="247.0" y2="1539.9" stroke="#1a1a1a" stroke-width="2.2"/>
<line x1="240.0" y1="1823.7" x2="247.0" y2="1823.7" stroke="#1a1a1a" stroke-width="2.2"/>
<line x1="240.0" y1="1807.6" x2="247.0" y2="1807.6" stroke="#1a1a1a" stroke-width="2.2"/>
<line x1="240.0" y1="1793.6" x2="247.0" y2="1793.6" stroke="#1a1a1a" stroke-width="2.2"/>
<line x1="240.0" y1="1781.2" x2="247.0" y2="1781.2" stroke="#1a1a1a" stroke-width="2.2"/>
<line x1="984.5" y1="1046.3" x2="993.5" y2="1046.3" stroke="#1a1a1a" stroke-width="2.2"/>
<line x1="984.5" y1="1287.6" x2="993.5" y2="1287.6" stroke="#1a1a1a" stroke-width="2.2"/>
<line x1="984.5" y1="1528.9" x2="993.5" y2="1528.9" stroke="#1a1a1a" stroke-width="2.2"/>
<line x1="984.5" y1="1770.2" x2="993.5" y2="1770.2" stroke="#1a1a1a" stroke-width="2.2"/>
<line x1="989.5" y1="1215.0" x2="993.5" y2="1215.0" stroke="#1a1a1a" stroke-width="2.2"/>
<line x1="989.5" y1="1172.5" x2="993.5" y2="1172.5" stroke="#1a1a1a" stroke-width="2.2"/>
<line x1="989.5" y1="1142.3" x2="993.5" y2="1142.3" stroke="#1a1a1a" stroke-width="2.2"/>
<line x1="989.5" y1="1118.9" x2="993.5" y2="1118.9" stroke="#1a1a1a" stroke-width="2.2"/>
<line x1="989.5" y1="1099.8" x2="993.5" y2="1099.8" stroke="#1a1a1a" stroke-width="2.2"/>
<line x1="989.5" y1="1083.7" x2="993.5" y2="1083.7" stroke="#1a1a1a" stroke-width="2.2"/>
<line x1="989.5" y1="1069.7" x2="993.5" y2="1069.7" stroke="#1a1a1a" stroke-width="2.2"/>
<line x1="989.5" y1="1057.3" x2="993.5" y2="1057.3" stroke="#1a1a1a" stroke-width="2.2"/>
<line x1="989.5" y1="1456.3" x2="993.5" y2="1456.3" stroke="#1a1a1a" stroke-width="2.2"/>
<line x1="989.5" y1="1413.8" x2="993.5" y2="1413.8" stroke="#1a1a1a" stroke-width="2.2"/>
<line x1="989.5" y1="1383.6" x2="993.5" y2="1383.6" stroke="#1a1a1a" stroke-width="2.2"/>
<line x1="989.5" y1="1360.2" x2="993.5" y2="1360.2" stroke="#1a1a1a" stroke-width="2.2"/>
<line x1="989.5" y1="1341.1" x2="993.5" y2="1341.1" stroke="#1a1a1a" stroke-width="2.2"/>
<line x1="989.5" y1="1325.0" x2="993.5" y2="1325.0" stroke="#1a1a1a" stroke-width="2.2"/>
<line x1="989.5" y1="1311.0" x2="993.5" y2="1311.0" stroke="#1a1a1a" stroke-width="2.2"/>
<line x1="989.5" y1="1298.6" x2="993.5" y2="1298.6" stroke="#1a1a1a" stroke-width="2.2"/>
<line x1="989.5" y1="1697.6" x2="993.5" y2="1697.6" stroke="#1a1a1a" stroke-width="2.2"/>
<line x1="989.5" y1="1655.1" x2="993.5" y2="1655.1" stroke="#1a1a1a" stroke-width="2.2"/>
<line x1="989.5" y1="1624.9" x2="993.5" y2="1624.9" stroke="#1a1a1a" stroke-width="2.2"/>
<line x1="989.5" y1="1601.5" x2="993.5" y2="1601.5" stroke="#1a1a1a" stroke-width="2.2"/>
<line x1="989.5" y1="1582.4" x2="993.5" y2="1582.4" stroke="#1a1a1a" stroke-width="2.2"/>
<line x1="989.5" y1="1566.3" x2="993.5" y2="1566.3" stroke="#1a1a1a" stroke-width="2.2"/>
<line x1="989.5" y1="1552.3" x2="993.5" y2="1552.3" stroke="#1a1a1a" stroke-width="2.2"/>
<line x1="989.5" y1="1539.9" x2="993.5" y2="1539.9" stroke="#1a1a1a" stroke-width="2.2"/>
<line x1="989.5" y1="1823.7" x2="993.5" y2="1823.7" stroke="#1a1a1a" stroke-width="2.2"/>
<line x1="989.5" y1="1807.6" x2="993.5" y2="1807.6" stroke="#1a1a1a" stroke-width="2.2"/>
<line x1="989.5" y1="1793.6" x2="993.5" y2="1793.6" stroke="#1a1a1a" stroke-width="2.2"/>
<line x1="989.5" y1="1781.2" x2="993.5" y2="1781.2" stroke="#1a1a1a" stroke-width="2.2"/>
<line x1="247.0" y1="1842.0" x2="247.0" y2="1852.0" stroke="#1a1a1a" stroke-width="2.2"/>
<line x1="495.8" y1="1842.0" x2="495.8" y2="1852.0" stroke="#1a1a1a" stroke-width="2.2"/>
<line x1="744.7" y1="1842.0" x2="744.7" y2="1852.0" stroke="#1a1a1a" stroke-width="2.2"/>
<line x1="993.5" y1="1842.0" x2="993.5" y2="1852.0" stroke="#1a1a1a" stroke-width="2.2"/>
<line x1="371.4" y1="1842.0" x2="371.4" y2="1848.5" stroke="#1a1a1a" stroke-width="2.2"/>
<line x1="620.2" y1="1842.0" x2="620.2" y2="1848.5" stroke="#1a1a1a" stroke-width="2.2"/>
<line x1="869.1" y1="1842.0" x2="869.1" y2="1848.5" stroke="#1a1a1a" stroke-width="2.2"/>
<line x1="247.0" y1="1046.3" x2="247.0" y2="1056.3" stroke="#1a1a1a" stroke-width="2.2"/>
<line x1="495.8" y1="1046.3" x2="495.8" y2="1056.3" stroke="#1a1a1a" stroke-width="2.2"/>
<line x1="744.7" y1="1046.3" x2="744.7" y2="1056.3" stroke="#1a1a1a" stroke-width="2.2"/>
<line x1="993.5" y1="1046.3" x2="993.5" y2="1056.3" stroke="#1a1a1a" stroke-width="2.2"/>
<line x1="371.4" y1="1046.3" x2="371.4" y2="1051.8" stroke="#1a1a1a" stroke-width="2.2"/>
<line x1="620.2" y1="1046.3" x2="620.2" y2="1051.8" stroke="#1a1a1a" stroke-width="2.2"/>
<line x1="869.1" y1="1046.3" x2="869.1" y2="1051.8" stroke="#1a1a1a" stroke-width="2.2"/>
<text x="104.2" y="1083.1" font-size="74" text-anchor="start" font-family="'Liberation Sans', Arial, sans-serif">10</text>
<text x="188.5" y="1040.1" font-size="42" text-anchor="start" font-family="'Liberation Sans', Arial, sans-serif">-6</text>
<text x="104.2" y="1324.4" font-size="74" text-anchor="start" font-family="'Liberation Sans', Arial, sans-serif">10</text>
<text x="188.5" y="1281.4" font-size="42" text-anchor="start" font-family="'Liberation Sans', Arial, sans-serif">-7</text>
<text x="104.2" y="1565.7" font-size="74" text-anchor="start" font-family="'Liberation Sans', Arial, sans-serif">10</text>
<text x="188.5" y="1522.7" font-size="42" text-anchor="start" font-family="'Liberation Sans', Arial, sans-serif">-8</text>
<text x="104.2" y="1807.0" font-size="74" text-anchor="start" font-family="'Liberation Sans', Arial, sans-serif">10</text>
<text x="188.5" y="1764.0" font-size="42" text-anchor="start" font-family="'Liberation Sans', Arial, sans-serif">-9</text>
<text x="244.9" y="1917.0" font-size="74" text-anchor="middle" font-family="'Liberation Sans', Arial, sans-serif">0.0</text>
<text x="495.3" y="1917.0" font-size="74" text-anchor="middle" font-family="'Liberation Sans', Arial, sans-serif">0.2</text>
<text x="743.5" y="1917.0" font-size="74" text-anchor="middle" font-family="'Liberation Sans', Arial, sans-serif">0.4</text>
<text x="993.7" y="1917.0" font-size="74" text-anchor="middle" font-family="'Liberation Sans', Arial, sans-serif">0.6</text>
<text x="515.0" y="1988.5" font-size="74" text-anchor="start" font-family="'Liberation Sans', Arial, sans-serif">V</text>
<text x="562.0" y="2011.0" font-size="42" text-anchor="start" font-family="'Liberation Sans', Arial, sans-serif">tip</text>
<text x="631.3" y="1988.5" font-size="74" text-anchor="start" font-family="'Liberation Sans', Arial, sans-serif">(V)</text>
<text transform="translate(105,1488.9) rotate(-90)" font-size="74" font-family="'Liberation Sans', Arial, sans-serif">I (A)</text>
<text x="275.0" y="1103.0" font-size="74" text-anchor="start" font-family="'Liberation Sans', Arial, sans-serif" textLength="88.5" lengthAdjust="spacing">(c)</text>
<ellipse cx="344.7" cy="1803.1" rx="11.9" ry="11.6" fill="#fff" stroke="#1a1a1a" stroke-width="1.9"/>
<ellipse cx="364.0" cy="1748.0" rx="11.9" ry="11.6" fill="#fff" stroke="#1a1a1a" stroke-width="1.9"/>
<ellipse cx="384.0" cy="1712.3" rx="11.9" ry="11.6" fill="#fff" stroke="#1a1a1a" stroke-width="1.9"/>
<ellipse cx="404.2" cy="1673.6" rx="11.9" ry="11.6" fill="#fff" stroke="#1a1a1a" stroke-width="1.9"/>
<ellipse cx="424.4" cy="1630.5" rx="11.9" ry="11.6" fill="#fff" stroke="#1a1a1a" stroke-width="1.9"/>
<ellipse cx="443.0" cy="1588.8" rx="11.9" ry="11.6" fill="#fff" stroke="#1a1a1a" stroke-width="1.9"/>
<ellipse cx="463.0" cy="1547.0" rx="11.9" ry="11.6" fill="#fff" stroke="#1a1a1a" stroke-width="1.9"/>
<ellipse cx="482.2" cy="1505.4" rx="11.9" ry="11.6" fill="#fff" stroke="#1a1a1a" stroke-width="1.9"/>
<ellipse cx="503.0" cy="1460.8" rx="11.9" ry="11.6" fill="#fff" stroke="#1a1a1a" stroke-width="1.9"/>
<ellipse cx="523.3" cy="1429.5" rx="11.9" ry="11.6" fill="#fff" stroke="#1a1a1a" stroke-width="1.9"/>
<ellipse cx="544.0" cy="1399.7" rx="11.9" ry="11.6" fill="#fff" stroke="#1a1a1a" stroke-width="1.9"/>
<ellipse cx="562.0" cy="1365.5" rx="11.9" ry="11.6" fill="#fff" stroke="#1a1a1a" stroke-width="1.9"/>
<ellipse cx="581.3" cy="1337.2" rx="11.9" ry="11.6" fill="#fff" stroke="#1a1a1a" stroke-width="1.9"/>
<ellipse cx="600.7" cy="1312.0" rx="11.9" ry="11.6" fill="#fff" stroke="#1a1a1a" stroke-width="1.9"/>
<ellipse cx="620.0" cy="1291.5" rx="11.9" ry="11.6" fill="#fff" stroke="#1a1a1a" stroke-width="1.9"/>
<ellipse cx="640.0" cy="1274.6" rx="11.9" ry="11.6" fill="#fff" stroke="#1a1a1a" stroke-width="1.9"/>
<ellipse cx="660.8" cy="1256.5" rx="11.9" ry="11.6" fill="#fff" stroke="#1a1a1a" stroke-width="1.9"/>
<ellipse cx="679.4" cy="1239.6" rx="11.9" ry="11.6" fill="#fff" stroke="#1a1a1a" stroke-width="1.9"/>
<ellipse cx="700.8" cy="1228.3" rx="11.9" ry="11.6" fill="#fff" stroke="#1a1a1a" stroke-width="1.9"/>
<ellipse cx="720.6" cy="1218.2" rx="11.9" ry="11.6" fill="#fff" stroke="#1a1a1a" stroke-width="1.9"/>
<ellipse cx="739.7" cy="1208.6" rx="11.9" ry="11.6" fill="#fff" stroke="#1a1a1a" stroke-width="1.9"/>
<ellipse cx="761.2" cy="1200.0" rx="11.9" ry="11.6" fill="#fff" stroke="#1a1a1a" stroke-width="1.9"/>
<ellipse cx="780.9" cy="1197.3" rx="11.9" ry="11.6" fill="#fff" stroke="#1a1a1a" stroke-width="1.9"/>
<ellipse cx="799.5" cy="1190.0" rx="11.9" ry="11.6" fill="#fff" stroke="#1a1a1a" stroke-width="1.9"/>
<ellipse cx="820.4" cy="1181.5" rx="11.9" ry="11.6" fill="#fff" stroke="#1a1a1a" stroke-width="1.9"/>
<ellipse cx="840.0" cy="1173.7" rx="11.9" ry="11.6" fill="#fff" stroke="#1a1a1a" stroke-width="1.9"/>
<ellipse cx="859.8" cy="1165.8" rx="11.9" ry="11.6" fill="#fff" stroke="#1a1a1a" stroke-width="1.9"/>
<ellipse cx="879.6" cy="1162.4" rx="11.9" ry="11.6" fill="#fff" stroke="#1a1a1a" stroke-width="1.9"/>
<ellipse cx="899.3" cy="1155.0" rx="11.9" ry="11.6" fill="#fff" stroke="#1a1a1a" stroke-width="1.9"/>
<ellipse cx="919.0" cy="1148.8" rx="11.9" ry="11.6" fill="#fff" stroke="#1a1a1a" stroke-width="1.9"/>
<ellipse cx="938.8" cy="1148.8" rx="11.9" ry="11.6" fill="#fff" stroke="#1a1a1a" stroke-width="1.9"/>
<ellipse cx="958.5" cy="1145.5" rx="11.9" ry="11.6" fill="#fff" stroke="#1a1a1a" stroke-width="1.9"/>
<ellipse cx="980.0" cy="1139.8" rx="11.9" ry="11.6" fill="#fff" stroke="#1a1a1a" stroke-width="1.9"/>
<line x1="327.0" y1="1846.0" x2="569.4" y2="1325.3" stroke="#ff0000" stroke-width="6.5" clip-path="url(#clipC)"/>
<text x="508.3" y="1561.0" font-size="70" text-anchor="start" font-family="'Liberation Serif', 'Times New Roman', serif" stroke="#000" stroke-width="0.7">&#934;</text>
<text x="559.5" y="1586.0" font-size="41" text-anchor="start" font-family="'Liberation Sans', Arial, sans-serif">B</text>
<text x="590.3" y="1560.7" font-size="74" text-anchor="start" font-family="'Liberation Sans', Arial, sans-serif">=307 meV</text>
<text x="508.9" y="1661.8" font-size="74" text-anchor="start" font-family="'Liberation Sans', Arial, sans-serif">n=1.61</text>
<rect x="1384" y="1043.5" width="756" height="798.8" fill="none" stroke="#1a1a1a" stroke-width="2.2"/>
<line x1="1373.0" y1="1754.0" x2="1384.0" y2="1754.0" stroke="#1a1a1a" stroke-width="2.2"/>
<line x1="1373.0" y1="1576.4" x2="1384.0" y2="1576.4" stroke="#1a1a1a" stroke-width="2.2"/>
<line x1="1373.0" y1="1398.8" x2="1384.0" y2="1398.8" stroke="#1a1a1a" stroke-width="2.2"/>
<line x1="1373.0" y1="1221.2" x2="1384.0" y2="1221.2" stroke="#1a1a1a" stroke-width="2.2"/>
<line x1="1373.0" y1="1043.6" x2="1384.0" y2="1043.6" stroke="#1a1a1a" stroke-width="2.2"/>
<line x1="1378.0" y1="1842.8" x2="1384.0" y2="1842.8" stroke="#1a1a1a" stroke-width="2.2"/>
<line x1="1378.0" y1="1665.2" x2="1384.0" y2="1665.2" stroke="#1a1a1a" stroke-width="2.2"/>
<line x1="1378.0" y1="1487.6" x2="1384.0" y2="1487.6" stroke="#1a1a1a" stroke-width="2.2"/>
<line x1="1378.0" y1="1310.0" x2="1384.0" y2="1310.0" stroke="#1a1a1a" stroke-width="2.2"/>
<line x1="1378.0" y1="1132.4" x2="1384.0" y2="1132.4" stroke="#1a1a1a" stroke-width="2.2"/>
<line x1="2131.0" y1="1754.0" x2="2140.0" y2="1754.0" stroke="#1a1a1a" stroke-width="2.2"/>
<line x1="2131.0" y1="1576.4" x2="2140.0" y2="1576.4" stroke="#1a1a1a" stroke-width="2.2"/>
<line x1="2131.0" y1="1398.8" x2="2140.0" y2="1398.8" stroke="#1a1a1a" stroke-width="2.2"/>
<line x1="2131.0" y1="1221.2" x2="2140.0" y2="1221.2" stroke="#1a1a1a" stroke-width="2.2"/>
<line x1="2131.0" y1="1043.6" x2="2140.0" y2="1043.6" stroke="#1a1a1a" stroke-width="2.2"/>
<line x1="2135.0" y1="1842.8" x2="2140.0" y2="1842.8" stroke="#1a1a1a" stroke-width="2.2"/>
<line x1="2135.0" y1="1665.2" x2="2140.0" y2="1665.2" stroke="#1a1a1a" stroke-width="2.2"/>
<line x1="2135.0" y1="1487.6" x2="2140.0" y2="1487.6" stroke="#1a1a1a" stroke-width="2.2"/>
<line x1="2135.0" y1="1310.0" x2="2140.0" y2="1310.0" stroke="#1a1a1a" stroke-width="2.2"/>
<line x1="2135.0" y1="1132.4" x2="2140.0" y2="1132.4" stroke="#1a1a1a" stroke-width="2.2"/>
<line x1="1384.0" y1="1842.3" x2="1384.0" y2="1852.3" stroke="#1a1a1a" stroke-width="2.2"/>
<line x1="1541.4" y1="1842.3" x2="1541.4" y2="1852.3" stroke="#1a1a1a" stroke-width="2.2"/>
<line x1="1698.8" y1="1842.3" x2="1698.8" y2="1852.3" stroke="#1a1a1a" stroke-width="2.2"/>
<line x1="1856.2" y1="1842.3" x2="1856.2" y2="1852.3" stroke="#1a1a1a" stroke-width="2.2"/>
<line x1="2013.6" y1="1842.3" x2="2013.6" y2="1852.3" stroke="#1a1a1a" stroke-width="2.2"/>
<line x1="1462.7" y1="1842.3" x2="1462.7" y2="1848.8" stroke="#1a1a1a" stroke-width="2.2"/>
<line x1="1620.1" y1="1842.3" x2="1620.1" y2="1848.8" stroke="#1a1a1a" stroke-width="2.2"/>
<line x1="1777.5" y1="1842.3" x2="1777.5" y2="1848.8" stroke="#1a1a1a" stroke-width="2.2"/>
<line x1="1934.9" y1="1842.3" x2="1934.9" y2="1848.8" stroke="#1a1a1a" stroke-width="2.2"/>
<line x1="2092.3" y1="1842.3" x2="2092.3" y2="1848.8" stroke="#1a1a1a" stroke-width="2.2"/>
<line x1="1384.0" y1="1043.5" x2="1384.0" y2="1053.5" stroke="#1a1a1a" stroke-width="2.2"/>
<line x1="1541.4" y1="1043.5" x2="1541.4" y2="1053.5" stroke="#1a1a1a" stroke-width="2.2"/>
<line x1="1698.8" y1="1043.5" x2="1698.8" y2="1053.5" stroke="#1a1a1a" stroke-width="2.2"/>
<line x1="1856.2" y1="1043.5" x2="1856.2" y2="1053.5" stroke="#1a1a1a" stroke-width="2.2"/>
<line x1="2013.6" y1="1043.5" x2="2013.6" y2="1053.5" stroke="#1a1a1a" stroke-width="2.2"/>
<line x1="1462.7" y1="1043.5" x2="1462.7" y2="1049.0" stroke="#1a1a1a" stroke-width="2.2"/>
<line x1="1620.1" y1="1043.5" x2="1620.1" y2="1049.0" stroke="#1a1a1a" stroke-width="2.2"/>
<line x1="1777.5" y1="1043.5" x2="1777.5" y2="1049.0" stroke="#1a1a1a" stroke-width="2.2"/>
<line x1="1934.9" y1="1043.5" x2="1934.9" y2="1049.0" stroke="#1a1a1a" stroke-width="2.2"/>
<line x1="2092.3" y1="1043.5" x2="2092.3" y2="1049.0" stroke="#1a1a1a" stroke-width="2.2"/>
<text x="1364.0" y="1065.7" font-size="74" text-anchor="end" font-family="'Liberation Sans', Arial, sans-serif">0.9</text>
<text x="1364.0" y="1245.0" font-size="74" text-anchor="end" font-family="'Liberation Sans', Arial, sans-serif">0.8</text>
<text x="1364.0" y="1422.4" font-size="74" text-anchor="end" font-family="'Liberation Sans', Arial, sans-serif">0.7</text>
<text x="1364.0" y="1601.7" font-size="74" text-anchor="end" font-family="'Liberation Sans', Arial, sans-serif">0.6</text>
<text x="1364.0" y="1777.9" font-size="74" text-anchor="end" font-family="'Liberation Sans', Arial, sans-serif">0.5</text>
<text x="1382.0" y="1920.2" font-size="74" text-anchor="middle" font-family="'Liberation Sans', Arial, sans-serif">0.0</text>
<text x="1537.0" y="1920.2" font-size="74" text-anchor="middle" font-family="'Liberation Sans', Arial, sans-serif">0.1</text>
<text x="1697.0" y="1920.2" font-size="74" text-anchor="middle" font-family="'Liberation Sans', Arial, sans-serif">0.2</text>
<text x="1853.0" y="1920.2" font-size="74" text-anchor="middle" font-family="'Liberation Sans', Arial, sans-serif">0.3</text>
<text x="2011.0" y="1920.2" font-size="74" text-anchor="middle" font-family="'Liberation Sans', Arial, sans-serif">0.4</text>
<text x="1633.7" y="1988.0" font-size="74" text-anchor="start" font-family="'Liberation Sans', Arial, sans-serif">I</text>
<text x="1677.0" y="1988.0" font-size="74" text-anchor="start" font-family="'Liberation Sans', Arial, sans-serif">(</text>
<text x="1701.0" y="1988.0" font-size="62" text-anchor="start" font-family="'Liberation Serif', 'Times New Roman', serif">&#181;</text>
<text x="1737.0" y="1988.0" font-size="74" text-anchor="start" font-family="'Liberation Sans', Arial, sans-serif">A</text>
<text x="1794.0" y="1988.0" font-size="74" text-anchor="start" font-family="'Liberation Sans', Arial, sans-serif">)</text>
<text transform="translate(1232,1530.8) rotate(-90)" font-size="74" font-family="'Liberation Sans', Arial, sans-serif">H (V)</text>
<text x="1392.0" y="1104.3" font-size="74" text-anchor="start" font-family="'Liberation Sans', Arial, sans-serif">(d)</text>
<text x="1474.0" y="1197.2" font-size="64" text-anchor="start" font-family="'Liberation Sans', Arial, sans-serif" textLength="533.3" lengthAdjust="spacing">R=(8.02&#177;0.12)x10</text>
<text x="2010.0" y="1159.5" font-size="43" text-anchor="start" font-family="'Liberation Sans', Arial, sans-serif">5</text>
<text x="2050.0" y="1196.5" font-size="60" text-anchor="start" font-family="'Liberation Sans', Arial, sans-serif">&#937;</text>
<ellipse cx="1383.2" cy="1660.6" rx="11.3" ry="11" fill="#fff" stroke="#1a1a1a" stroke-width="1.9"/>
<ellipse cx="1383.2" cy="1685.6" rx="11.3" ry="11" fill="#fff" stroke="#1a1a1a" stroke-width="1.9"/>
<ellipse cx="1383.2" cy="1720.8" rx="11.3" ry="11" fill="#fff" stroke="#1a1a1a" stroke-width="1.9"/>
<ellipse cx="1383.2" cy="1727.0" rx="11.3" ry="11" fill="#fff" stroke="#1a1a1a" stroke-width="1.9"/>
<ellipse cx="1383.2" cy="1733.2" rx="11.3" ry="11" fill="#fff" stroke="#1a1a1a" stroke-width="1.9"/>
<ellipse cx="1385.0" cy="1738.5" rx="11.3" ry="11" fill="#fff" stroke="#1a1a1a" stroke-width="1.9"/>
<ellipse cx="1390.0" cy="1742.0" rx="11.3" ry="11" fill="#fff" stroke="#1a1a1a" stroke-width="1.9"/>
<ellipse cx="1396.4" cy="1749.0" rx="11.3" ry="11" fill="#fff" stroke="#1a1a1a" stroke-width="1.9"/>
<ellipse cx="1401.0" cy="1751.0" rx="11.3" ry="11" fill="#fff" stroke="#1a1a1a" stroke-width="1.9"/>
<ellipse cx="1405.2" cy="1754.3" rx="11.3" ry="11" fill="#fff" stroke="#1a1a1a" stroke-width="1.9"/>
<ellipse cx="1412.3" cy="1753.4" rx="11.3" ry="11" fill="#fff" stroke="#1a1a1a" stroke-width="1.9"/>
<ellipse cx="1421.0" cy="1750.8" rx="11.3" ry="11" fill="#fff" stroke="#1a1a1a" stroke-width="1.9"/>
<ellipse cx="1435.0" cy="1740.2" rx="11.3" ry="11" fill="#fff" stroke="#1a1a1a" stroke-width="1.9"/>
<ellipse cx="1458.0" cy="1739.3" rx="11.3" ry="11" fill="#fff" stroke="#1a1a1a" stroke-width="1.9"/>
<ellipse cx="1479.2" cy="1733.2" rx="11.3" ry="11" fill="#fff" stroke="#1a1a1a" stroke-width="1.9"/>
<ellipse cx="1505.6" cy="1724.4" rx="11.3" ry="11" fill="#fff" stroke="#1a1a1a" stroke-width="1.9"/>
<ellipse cx="1533.7" cy="1711.2" rx="11.3" ry="11" fill="#fff" stroke="#1a1a1a" stroke-width="1.9"/>
<ellipse cx="1561.0" cy="1696.2" rx="11.3" ry="11" fill="#fff" stroke="#1a1a1a" stroke-width="1.9"/>
<ellipse cx="1593.6" cy="1680.4" rx="11.3" ry="11" fill="#fff" stroke="#1a1a1a" stroke-width="1.9"/>
<ellipse cx="1626.2" cy="1661.9" rx="11.3" ry="11" fill="#fff" stroke="#1a1a1a" stroke-width="1.9"/>
<ellipse cx="1655.2" cy="1642.5" rx="11.3" ry="11" fill="#fff" stroke="#1a1a1a" stroke-width="1.9"/>
<ellipse cx="1685.0" cy="1624.0" rx="11.3" ry="11" fill="#fff" stroke="#1a1a1a" stroke-width="1.9"/>
<ellipse cx="1715.0" cy="1603.0" rx="11.3" ry="11" fill="#fff" stroke="#1a1a1a" stroke-width="1.9"/>
<ellipse cx="1728.5" cy="1575.0" rx="11.3" ry="11" fill="#fff" stroke="#1a1a1a" stroke-width="1.9"/>
<ellipse cx="1742.6" cy="1555.0" rx="11.3" ry="11" fill="#fff" stroke="#1a1a1a" stroke-width="1.9"/>
<ellipse cx="1781.0" cy="1530.0" rx="11.3" ry="11" fill="#fff" stroke="#1a1a1a" stroke-width="1.9"/>
<ellipse cx="1811.4" cy="1510.0" rx="11.3" ry="11" fill="#fff" stroke="#1a1a1a" stroke-width="1.9"/>
<ellipse cx="1844.0" cy="1484.8" rx="11.3" ry="11" fill="#fff" stroke="#1a1a1a" stroke-width="1.9"/>
<ellipse cx="1876.8" cy="1463.4" rx="11.3" ry="11" fill="#fff" stroke="#1a1a1a" stroke-width="1.9"/>
<ellipse cx="1898.8" cy="1439.7" rx="11.3" ry="11" fill="#fff" stroke="#1a1a1a" stroke-width="1.9"/>
<ellipse cx="1925.8" cy="1417.0" rx="11.3" ry="11" fill="#fff" stroke="#1a1a1a" stroke-width="1.9"/>
<ellipse cx="1958.0" cy="1391.8" rx="11.3" ry="11" fill="#fff" stroke="#1a1a1a" stroke-width="1.9"/>
<ellipse cx="1968.0" cy="1363.6" rx="11.3" ry="11" fill="#fff" stroke="#1a1a1a" stroke-width="1.9"/>
<ellipse cx="1986.0" cy="1338.2" rx="11.3" ry="11" fill="#fff" stroke="#1a1a1a" stroke-width="1.9"/>
<ellipse cx="2020.0" cy="1315.7" rx="11.3" ry="11" fill="#fff" stroke="#1a1a1a" stroke-width="1.9"/>
<ellipse cx="2050.0" cy="1290.3" rx="11.3" ry="11" fill="#fff" stroke="#1a1a1a" stroke-width="1.9"/>
<ellipse cx="2074.0" cy="1265.0" rx="11.3" ry="11" fill="#fff" stroke="#1a1a1a" stroke-width="1.9"/>
<ellipse cx="2109.0" cy="1239.6" rx="11.3" ry="11" fill="#fff" stroke="#1a1a1a" stroke-width="1.9"/>
<ellipse cx="2117.5" cy="1213.0" rx="11.3" ry="11" fill="#fff" stroke="#1a1a1a" stroke-width="1.9"/>
<line x1="1578.0" y1="1722.4" x2="2145.0" y2="1208.6" stroke="#ff0000" stroke-width="6.3" clip-path="url(#clipD)"/>
</svg>
</body></html>
